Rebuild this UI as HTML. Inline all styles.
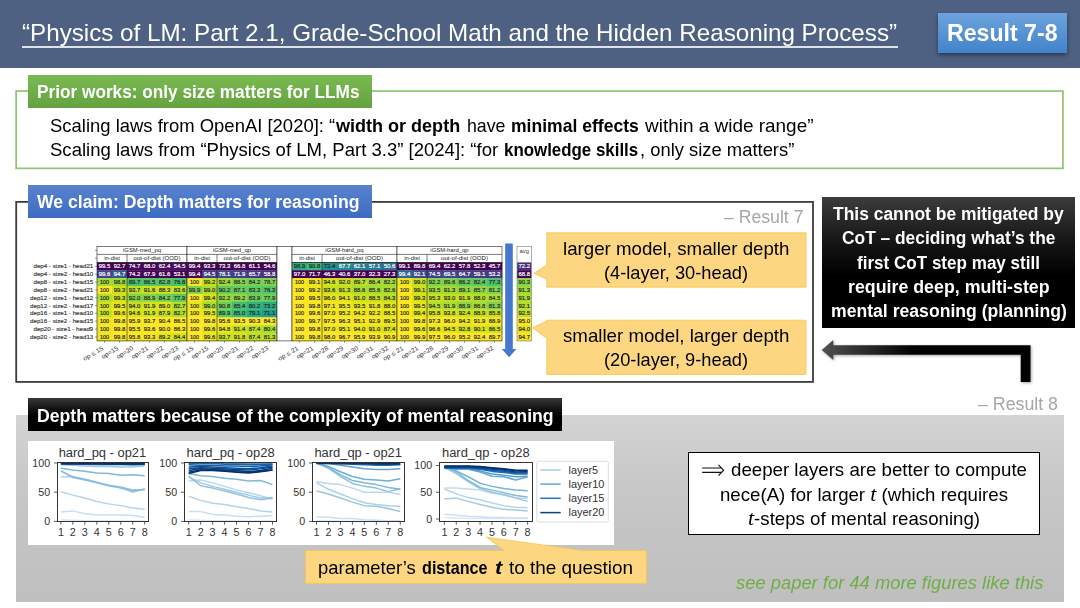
<!DOCTYPE html>
<html><head><meta charset="utf-8"><title>slide</title>
<style>
html,body{margin:0;padding:0}
body{width:1080px;height:608px;position:relative;overflow:hidden;background:#fff;font-family:"Liberation Sans",sans-serif}
.t{position:absolute;white-space:nowrap;display:inline-block;transform-origin:0 0}
.r{position:absolute}
.m{font-family:"Liberation Serif",serif;font-size:1.18em;line-height:0}
</style></head><body>
<div class="r" style="left:0px;top:0px;width:1080.00px;height:67.50px;background:#4f6183"></div>
<span id="title" class="t" style="left:22.00px;top:19px;font-size:24px;line-height:27px;font-weight:400;color:#fff;font-style:normal;transform:scaleX(1.0076);">“Physics of LM: Part 2.1, Grade-School Math and the Hidden Reasoning Process”</span>
<div class="r" style="left:22px;top:46px;width:875.50px;height:2.00px;background:rgba(255,255,255,.82)"></div>
<div class="r" style="left:937.5px;top:12.5px;width:129.20px;height:40.50px;background:linear-gradient(#6da3dc,#4283cb);box-shadow:0 2px 4px rgba(0,0,0,.45)"></div>
<span id="badge" class="t" style="left:947.00px;top:19px;font-size:24px;line-height:27px;font-weight:700;color:#fff;font-style:normal;transform:scaleX(0.9634);">Result 7-8</span>
<svg class="r" style="left:0;top:80px" width="1080" height="100" viewBox="0 80 1080 100"><rect x="16.15" y="91.05" width="1046.8" height="77.3" fill="none" stroke="#8fc470" stroke-width="1.7"/></svg>
<div class="r" style="left:28px;top:74.5px;width:343.50px;height:33.00px;background:linear-gradient(#7aba52,#65a23f)"></div>
<span id="glabel" class="t" style="left:37.00px;top:82px;font-size:17.5px;line-height:20px;font-weight:700;color:#fff;font-style:normal;transform:scaleX(0.9841);">Prior works: only size matters for LLMs</span>
<span id="b1a" class="t" style="left:50.10px;top:116px;font-size:18.2px;line-height:20px;font-weight:400;color:#000;font-style:normal;transform:scaleX(1.0148);">Scaling laws from OpenAI [2020]: “</span>
<span id="b1b" class="t" style="left:336.25px;top:116px;font-size:18.2px;line-height:20px;font-weight:700;color:#000;font-style:normal;transform:scaleX(0.9910);">width or depth</span>
<span id="b1c" class="t" style="left:466.50px;top:116px;font-size:18.2px;line-height:20px;font-weight:400;color:#000;font-style:normal;transform:scaleX(0.9758);">have</span>
<span id="b1d" class="t" style="left:510.70px;top:116px;font-size:18.2px;line-height:20px;font-weight:700;color:#000;font-style:normal;transform:scaleX(0.9651);">minimal effects</span>
<span id="b1e" class="t" style="left:644.50px;top:116px;font-size:18.2px;line-height:20px;font-weight:400;color:#000;font-style:normal;transform:scaleX(1.0416);">within a wide range”</span>
<span id="b2a" class="t" style="left:50.10px;top:140px;font-size:18.2px;line-height:20px;font-weight:400;color:#000;font-style:normal;transform:scaleX(1.0193);">Scaling laws from “Physics of LM, Part 3.3” [2024]: “for</span>
<span id="b2b" class="t" style="left:504.30px;top:140px;font-size:18.2px;line-height:20px;font-weight:700;color:#000;font-style:normal;transform:scaleX(0.9284);">knowledge skills</span>
<span id="b2c" class="t" style="left:640.30px;top:140px;font-size:18.2px;line-height:20px;font-weight:400;color:#000;font-style:normal;transform:scaleX(1.0110);">, only size matters”</span>
<svg class="r" style="left:0;top:190px" width="830" height="200" viewBox="0 190 830 200"><rect x="16.2" y="201.9" width="796.8" height="180" fill="#fff" stroke="#3d3d3d" stroke-width="1.8"/></svg>
<div class="r" style="left:28px;top:185px;width:343.75px;height:33.20px;background:linear-gradient(#5983cf,#3c6bc2)"></div>
<span id="blabel" class="t" style="left:37.00px;top:192px;font-size:17.5px;line-height:20px;font-weight:700;color:#fff;font-style:normal;transform:scaleX(1.0059);">We claim: Depth matters for reasoning</span>
<span id="res7" class="t" style="left:723.75px;top:207px;font-size:17.5px;line-height:20px;font-weight:400;color:#a6a6a6;font-style:normal;transform:scaleX(1.0089);">– Result 7</span>
<svg class="r" style="left:0;top:230px" width="560" height="150" viewBox="0 230 560 150" font-family="Liberation Sans, sans-serif">
<rect x="97.00" y="262.40" width="15.30" height="8.15" fill="#440154"/>
<text x="104.50" y="268.30" font-size="5.6" fill="#fff" stroke="#fff" stroke-width="0.16" text-anchor="middle" textLength="11.6" lengthAdjust="spacingAndGlyphs">99.5</text>
<rect x="97.00" y="270.25" width="15.30" height="8.15" fill="#414487"/>
<text x="104.50" y="276.15" font-size="5.6" fill="#fff" stroke="#fff" stroke-width="0.16" text-anchor="middle" textLength="11.6" lengthAdjust="spacingAndGlyphs">99.6</text>
<rect x="97.00" y="278.10" width="15.30" height="8.15" fill="#a2da37"/>
<text x="104.50" y="284.00" font-size="5.6" fill="#262626" stroke="#262626" stroke-width="0.16" text-anchor="middle" textLength="9.2" lengthAdjust="spacingAndGlyphs">100</text>
<rect x="97.00" y="285.95" width="15.30" height="8.15" fill="#fde725"/>
<text x="104.50" y="291.85" font-size="5.6" fill="#262626" stroke="#262626" stroke-width="0.16" text-anchor="middle" textLength="9.2" lengthAdjust="spacingAndGlyphs">100</text>
<rect x="97.00" y="293.80" width="15.30" height="8.15" fill="#b0dd2f"/>
<text x="104.50" y="299.70" font-size="5.6" fill="#262626" stroke="#262626" stroke-width="0.16" text-anchor="middle" textLength="9.2" lengthAdjust="spacingAndGlyphs">100</text>
<rect x="97.00" y="301.65" width="15.30" height="8.15" fill="#d8e219"/>
<text x="104.50" y="307.55" font-size="5.6" fill="#262626" stroke="#262626" stroke-width="0.16" text-anchor="middle" textLength="9.2" lengthAdjust="spacingAndGlyphs">100</text>
<rect x="97.00" y="309.50" width="15.30" height="8.15" fill="#cae11f"/>
<text x="104.50" y="315.40" font-size="5.6" fill="#262626" stroke="#262626" stroke-width="0.16" text-anchor="middle" textLength="9.2" lengthAdjust="spacingAndGlyphs">100</text>
<rect x="97.00" y="317.35" width="15.30" height="8.15" fill="#f1e51d"/>
<text x="104.50" y="323.25" font-size="5.6" fill="#262626" stroke="#262626" stroke-width="0.16" text-anchor="middle" textLength="9.2" lengthAdjust="spacingAndGlyphs">100</text>
<rect x="97.00" y="325.20" width="15.30" height="8.15" fill="#f1e51d"/>
<text x="104.50" y="331.10" font-size="5.6" fill="#262626" stroke="#262626" stroke-width="0.16" text-anchor="middle" textLength="9.2" lengthAdjust="spacingAndGlyphs">100</text>
<rect x="97.00" y="333.05" width="15.30" height="8.15" fill="#f1e51d"/>
<text x="104.50" y="338.95" font-size="5.6" fill="#262626" stroke="#262626" stroke-width="0.16" text-anchor="middle" textLength="9.2" lengthAdjust="spacingAndGlyphs">100</text>
<rect x="112.00" y="262.40" width="15.30" height="8.15" fill="#440154"/>
<text x="119.50" y="268.30" font-size="5.6" fill="#fff" stroke="#fff" stroke-width="0.16" text-anchor="middle" textLength="11.6" lengthAdjust="spacingAndGlyphs">92.7</text>
<rect x="112.00" y="270.25" width="15.30" height="8.15" fill="#375b8d"/>
<text x="119.50" y="276.15" font-size="5.6" fill="#fff" stroke="#fff" stroke-width="0.16" text-anchor="middle" textLength="11.6" lengthAdjust="spacingAndGlyphs">94.7</text>
<rect x="112.00" y="278.10" width="15.30" height="8.15" fill="#a0da39"/>
<text x="119.50" y="284.00" font-size="5.6" fill="#262626" stroke="#262626" stroke-width="0.16" text-anchor="middle" textLength="11.6" lengthAdjust="spacingAndGlyphs">98.8</text>
<rect x="112.00" y="285.95" width="15.30" height="8.15" fill="#d0e11c"/>
<text x="119.50" y="291.85" font-size="5.6" fill="#262626" stroke="#262626" stroke-width="0.16" text-anchor="middle" textLength="11.6" lengthAdjust="spacingAndGlyphs">99.3</text>
<rect x="112.00" y="293.80" width="15.30" height="8.15" fill="#d0e11c"/>
<text x="119.50" y="299.70" font-size="5.6" fill="#262626" stroke="#262626" stroke-width="0.16" text-anchor="middle" textLength="11.6" lengthAdjust="spacingAndGlyphs">99.3</text>
<rect x="112.00" y="301.65" width="15.30" height="8.15" fill="#e5e419"/>
<text x="119.50" y="307.55" font-size="5.6" fill="#262626" stroke="#262626" stroke-width="0.16" text-anchor="middle" textLength="11.6" lengthAdjust="spacingAndGlyphs">99.5</text>
<rect x="112.00" y="309.50" width="15.30" height="8.15" fill="#ece51b"/>
<text x="119.50" y="315.40" font-size="5.6" fill="#262626" stroke="#262626" stroke-width="0.16" text-anchor="middle" textLength="11.6" lengthAdjust="spacingAndGlyphs">99.6</text>
<rect x="112.00" y="317.35" width="15.30" height="8.15" fill="#fde725"/>
<text x="119.50" y="323.25" font-size="5.6" fill="#262626" stroke="#262626" stroke-width="0.16" text-anchor="middle" textLength="11.6" lengthAdjust="spacingAndGlyphs">99.8</text>
<rect x="112.00" y="325.20" width="15.30" height="8.15" fill="#fde725"/>
<text x="119.50" y="331.10" font-size="5.6" fill="#262626" stroke="#262626" stroke-width="0.16" text-anchor="middle" textLength="11.6" lengthAdjust="spacingAndGlyphs">99.8</text>
<rect x="112.00" y="333.05" width="15.30" height="8.15" fill="#fde725"/>
<text x="119.50" y="338.95" font-size="5.6" fill="#262626" stroke="#262626" stroke-width="0.16" text-anchor="middle" textLength="11.6" lengthAdjust="spacingAndGlyphs">99.8</text>
<rect x="127.00" y="262.40" width="15.30" height="8.15" fill="#46085c"/>
<text x="134.50" y="268.30" font-size="5.6" fill="#fff" stroke="#fff" stroke-width="0.16" text-anchor="middle" textLength="11.6" lengthAdjust="spacingAndGlyphs">74.7</text>
<rect x="127.00" y="270.25" width="15.30" height="8.15" fill="#440154"/>
<text x="134.50" y="276.15" font-size="5.6" fill="#fff" stroke="#fff" stroke-width="0.16" text-anchor="middle" textLength="11.6" lengthAdjust="spacingAndGlyphs">74.2</text>
<rect x="127.00" y="278.10" width="15.30" height="8.15" fill="#4ac16d"/>
<text x="134.50" y="284.00" font-size="5.6" fill="#262626" stroke="#262626" stroke-width="0.16" text-anchor="middle" textLength="11.6" lengthAdjust="spacingAndGlyphs">89.7</text>
<rect x="127.00" y="285.95" width="15.30" height="8.15" fill="#bddf26"/>
<text x="134.50" y="291.85" font-size="5.6" fill="#262626" stroke="#262626" stroke-width="0.16" text-anchor="middle" textLength="11.6" lengthAdjust="spacingAndGlyphs">93.7</text>
<rect x="127.00" y="293.80" width="15.30" height="8.15" fill="#86d549"/>
<text x="134.50" y="299.70" font-size="5.6" fill="#262626" stroke="#262626" stroke-width="0.16" text-anchor="middle" textLength="11.6" lengthAdjust="spacingAndGlyphs">92.0</text>
<rect x="127.00" y="301.65" width="15.30" height="8.15" fill="#c5e021"/>
<text x="134.50" y="307.55" font-size="5.6" fill="#262626" stroke="#262626" stroke-width="0.16" text-anchor="middle" textLength="11.6" lengthAdjust="spacingAndGlyphs">94.0</text>
<rect x="127.00" y="309.50" width="15.30" height="8.15" fill="#d8e219"/>
<text x="134.50" y="315.40" font-size="5.6" fill="#262626" stroke="#262626" stroke-width="0.16" text-anchor="middle" textLength="11.6" lengthAdjust="spacingAndGlyphs">94.6</text>
<rect x="127.00" y="317.35" width="15.30" height="8.15" fill="#fde725"/>
<text x="134.50" y="323.25" font-size="5.6" fill="#262626" stroke="#262626" stroke-width="0.16" text-anchor="middle" textLength="11.6" lengthAdjust="spacingAndGlyphs">95.9</text>
<rect x="127.00" y="325.20" width="15.30" height="8.15" fill="#f4e61e"/>
<text x="134.50" y="331.10" font-size="5.6" fill="#262626" stroke="#262626" stroke-width="0.16" text-anchor="middle" textLength="11.6" lengthAdjust="spacingAndGlyphs">95.5</text>
<rect x="127.00" y="333.05" width="15.30" height="8.15" fill="#fbe723"/>
<text x="134.50" y="338.95" font-size="5.6" fill="#262626" stroke="#262626" stroke-width="0.16" text-anchor="middle" textLength="11.6" lengthAdjust="spacingAndGlyphs">95.8</text>
<rect x="142.00" y="262.40" width="15.30" height="8.15" fill="#440154"/>
<text x="149.50" y="268.30" font-size="5.6" fill="#fff" stroke="#fff" stroke-width="0.16" text-anchor="middle" textLength="11.6" lengthAdjust="spacingAndGlyphs">68.0</text>
<rect x="142.00" y="270.25" width="15.30" height="8.15" fill="#440154"/>
<text x="149.50" y="276.15" font-size="5.6" fill="#fff" stroke="#fff" stroke-width="0.16" text-anchor="middle" textLength="11.6" lengthAdjust="spacingAndGlyphs">67.9</text>
<rect x="142.00" y="278.10" width="15.30" height="8.15" fill="#4ec36b"/>
<text x="149.50" y="284.00" font-size="5.6" fill="#262626" stroke="#262626" stroke-width="0.16" text-anchor="middle" textLength="11.6" lengthAdjust="spacingAndGlyphs">86.5</text>
<rect x="142.00" y="285.95" width="15.30" height="8.15" fill="#cae11f"/>
<text x="149.50" y="291.85" font-size="5.6" fill="#262626" stroke="#262626" stroke-width="0.16" text-anchor="middle" textLength="11.6" lengthAdjust="spacingAndGlyphs">91.6</text>
<rect x="142.00" y="293.80" width="15.30" height="8.15" fill="#84d44b"/>
<text x="149.50" y="299.70" font-size="5.6" fill="#262626" stroke="#262626" stroke-width="0.16" text-anchor="middle" textLength="11.6" lengthAdjust="spacingAndGlyphs">88.9</text>
<rect x="142.00" y="301.65" width="15.30" height="8.15" fill="#d2e21b"/>
<text x="149.50" y="307.55" font-size="5.6" fill="#262626" stroke="#262626" stroke-width="0.16" text-anchor="middle" textLength="11.6" lengthAdjust="spacingAndGlyphs">91.9</text>
<rect x="142.00" y="309.50" width="15.30" height="8.15" fill="#d2e21b"/>
<text x="149.50" y="315.40" font-size="5.6" fill="#262626" stroke="#262626" stroke-width="0.16" text-anchor="middle" textLength="11.6" lengthAdjust="spacingAndGlyphs">91.9</text>
<rect x="142.00" y="317.35" width="15.30" height="8.15" fill="#fde725"/>
<text x="149.50" y="323.25" font-size="5.6" fill="#262626" stroke="#262626" stroke-width="0.16" text-anchor="middle" textLength="11.6" lengthAdjust="spacingAndGlyphs">93.7</text>
<rect x="142.00" y="325.20" width="15.30" height="8.15" fill="#fde725"/>
<text x="149.50" y="331.10" font-size="5.6" fill="#262626" stroke="#262626" stroke-width="0.16" text-anchor="middle" textLength="11.6" lengthAdjust="spacingAndGlyphs">93.6</text>
<rect x="142.00" y="333.05" width="15.30" height="8.15" fill="#f6e620"/>
<text x="149.50" y="338.95" font-size="5.6" fill="#262626" stroke="#262626" stroke-width="0.16" text-anchor="middle" textLength="11.6" lengthAdjust="spacingAndGlyphs">93.3</text>
<rect x="157.00" y="262.40" width="15.30" height="8.15" fill="#460b5e"/>
<text x="164.50" y="268.30" font-size="5.6" fill="#fff" stroke="#fff" stroke-width="0.16" text-anchor="middle" textLength="11.6" lengthAdjust="spacingAndGlyphs">62.4</text>
<rect x="157.00" y="270.25" width="15.30" height="8.15" fill="#440154"/>
<text x="164.50" y="276.15" font-size="5.6" fill="#fff" stroke="#fff" stroke-width="0.16" text-anchor="middle" textLength="11.6" lengthAdjust="spacingAndGlyphs">61.6</text>
<rect x="157.00" y="278.10" width="15.30" height="8.15" fill="#56c667"/>
<text x="164.50" y="284.00" font-size="5.6" fill="#262626" stroke="#262626" stroke-width="0.16" text-anchor="middle" textLength="11.6" lengthAdjust="spacingAndGlyphs">82.8</text>
<rect x="157.00" y="285.95" width="15.30" height="8.15" fill="#d0e11c"/>
<text x="164.50" y="291.85" font-size="5.6" fill="#262626" stroke="#262626" stroke-width="0.16" text-anchor="middle" textLength="11.6" lengthAdjust="spacingAndGlyphs">88.3</text>
<rect x="157.00" y="293.80" width="15.30" height="8.15" fill="#70cf57"/>
<text x="164.50" y="299.70" font-size="5.6" fill="#262626" stroke="#262626" stroke-width="0.16" text-anchor="middle" textLength="11.6" lengthAdjust="spacingAndGlyphs">84.2</text>
<rect x="157.00" y="301.65" width="15.30" height="8.15" fill="#dfe318"/>
<text x="164.50" y="307.55" font-size="5.6" fill="#262626" stroke="#262626" stroke-width="0.16" text-anchor="middle" textLength="11.6" lengthAdjust="spacingAndGlyphs">89.0</text>
<rect x="157.00" y="309.50" width="15.30" height="8.15" fill="#c5e021"/>
<text x="164.50" y="315.40" font-size="5.6" fill="#262626" stroke="#262626" stroke-width="0.16" text-anchor="middle" textLength="11.6" lengthAdjust="spacingAndGlyphs">87.9</text>
<rect x="157.00" y="317.35" width="15.30" height="8.15" fill="#fde725"/>
<text x="164.50" y="323.25" font-size="5.6" fill="#262626" stroke="#262626" stroke-width="0.16" text-anchor="middle" textLength="11.6" lengthAdjust="spacingAndGlyphs">90.4</text>
<rect x="157.00" y="325.20" width="15.30" height="8.15" fill="#f6e620"/>
<text x="164.50" y="331.10" font-size="5.6" fill="#262626" stroke="#262626" stroke-width="0.16" text-anchor="middle" textLength="11.6" lengthAdjust="spacingAndGlyphs">90.0</text>
<rect x="157.00" y="333.05" width="15.30" height="8.15" fill="#e5e419"/>
<text x="164.50" y="338.95" font-size="5.6" fill="#262626" stroke="#262626" stroke-width="0.16" text-anchor="middle" textLength="11.6" lengthAdjust="spacingAndGlyphs">89.2</text>
<rect x="172.00" y="262.40" width="15.30" height="8.15" fill="#471063"/>
<text x="179.50" y="268.30" font-size="5.6" fill="#fff" stroke="#fff" stroke-width="0.16" text-anchor="middle" textLength="11.6" lengthAdjust="spacingAndGlyphs">54.5</text>
<rect x="172.00" y="270.25" width="15.30" height="8.15" fill="#440154"/>
<text x="179.50" y="276.15" font-size="5.6" fill="#fff" stroke="#fff" stroke-width="0.16" text-anchor="middle" textLength="11.6" lengthAdjust="spacingAndGlyphs">53.1</text>
<rect x="172.00" y="278.10" width="15.30" height="8.15" fill="#48c16e"/>
<text x="179.50" y="284.00" font-size="5.6" fill="#262626" stroke="#262626" stroke-width="0.16" text-anchor="middle" textLength="11.6" lengthAdjust="spacingAndGlyphs">76.8</text>
<rect x="172.00" y="285.95" width="15.30" height="8.15" fill="#c5e021"/>
<text x="179.50" y="291.85" font-size="5.6" fill="#262626" stroke="#262626" stroke-width="0.16" text-anchor="middle" textLength="11.6" lengthAdjust="spacingAndGlyphs">83.6</text>
<rect x="172.00" y="293.80" width="15.30" height="8.15" fill="#5ac864"/>
<text x="179.50" y="299.70" font-size="5.6" fill="#262626" stroke="#262626" stroke-width="0.16" text-anchor="middle" textLength="11.6" lengthAdjust="spacingAndGlyphs">77.9</text>
<rect x="172.00" y="301.65" width="15.30" height="8.15" fill="#b2dd2d"/>
<text x="179.50" y="307.55" font-size="5.6" fill="#262626" stroke="#262626" stroke-width="0.16" text-anchor="middle" textLength="11.6" lengthAdjust="spacingAndGlyphs">82.7</text>
<rect x="172.00" y="309.50" width="15.30" height="8.15" fill="#b2dd2d"/>
<text x="179.50" y="315.40" font-size="5.6" fill="#262626" stroke="#262626" stroke-width="0.16" text-anchor="middle" textLength="11.6" lengthAdjust="spacingAndGlyphs">82.7</text>
<rect x="172.00" y="317.35" width="15.30" height="8.15" fill="#fde725"/>
<text x="179.50" y="323.25" font-size="5.6" fill="#262626" stroke="#262626" stroke-width="0.16" text-anchor="middle" textLength="11.6" lengthAdjust="spacingAndGlyphs">86.5</text>
<rect x="172.00" y="325.20" width="15.30" height="8.15" fill="#fbe723"/>
<text x="179.50" y="331.10" font-size="5.6" fill="#262626" stroke="#262626" stroke-width="0.16" text-anchor="middle" textLength="11.6" lengthAdjust="spacingAndGlyphs">86.3</text>
<rect x="172.00" y="333.05" width="15.30" height="8.15" fill="#d5e21a"/>
<text x="179.50" y="338.95" font-size="5.6" fill="#262626" stroke="#262626" stroke-width="0.16" text-anchor="middle" textLength="11.6" lengthAdjust="spacingAndGlyphs">84.4</text>
<rect x="97.0" y="246.6" width="90.0" height="15.8" fill="#fff" stroke="#222" stroke-width="0.6"/>
<line x1="97.0" y1="254.4" x2="187.0" y2="254.4" stroke="#222" stroke-width="0.6"/>
<line x1="127.0" y1="254.4" x2="127.0" y2="340.9" stroke="#222" stroke-width="0.6"/>
<rect x="97.0" y="262.4" width="90.0" height="78.5" fill="none" stroke="#222" stroke-width="0.6"/>
<text x="142.0" y="252.1" font-size="5.9" fill="#222" text-anchor="middle">iGSM-med_pq</text>
<text x="112.0" y="260.3" font-size="5.9" fill="#222" text-anchor="middle">in-dist</text>
<text x="157.0" y="260.3" font-size="5.9" fill="#222" text-anchor="middle" textLength="47" lengthAdjust="spacingAndGlyphs">out-of-dist (OOD)</text>
<line x1="104.5" y1="340.9" x2="104.5" y2="342.8" stroke="#333" stroke-width="0.5"/>
<text x="79.00" y="345.5" font-size="6.3" fill="#333" textLength="22.5" lengthAdjust="spacingAndGlyphs" transform="rotate(-31 101.50 345.5)" dy="4.6">op ≤ 15</text>
<line x1="119.5" y1="340.9" x2="119.5" y2="342.8" stroke="#333" stroke-width="0.5"/>
<text x="97.90" y="345.5" font-size="6.3" fill="#333" textLength="18.6" lengthAdjust="spacingAndGlyphs" transform="rotate(-31 116.50 345.5)" dy="4.6">op=15</text>
<line x1="134.5" y1="340.9" x2="134.5" y2="342.8" stroke="#333" stroke-width="0.5"/>
<text x="112.90" y="345.5" font-size="6.3" fill="#333" textLength="18.6" lengthAdjust="spacingAndGlyphs" transform="rotate(-31 131.50 345.5)" dy="4.6">op=20</text>
<line x1="149.5" y1="340.9" x2="149.5" y2="342.8" stroke="#333" stroke-width="0.5"/>
<text x="127.90" y="345.5" font-size="6.3" fill="#333" textLength="18.6" lengthAdjust="spacingAndGlyphs" transform="rotate(-31 146.50 345.5)" dy="4.6">op=21</text>
<line x1="164.5" y1="340.9" x2="164.5" y2="342.8" stroke="#333" stroke-width="0.5"/>
<text x="142.90" y="345.5" font-size="6.3" fill="#333" textLength="18.6" lengthAdjust="spacingAndGlyphs" transform="rotate(-31 161.50 345.5)" dy="4.6">op=22</text>
<line x1="179.5" y1="340.9" x2="179.5" y2="342.8" stroke="#333" stroke-width="0.5"/>
<text x="157.90" y="345.5" font-size="6.3" fill="#333" textLength="18.6" lengthAdjust="spacingAndGlyphs" transform="rotate(-31 176.50 345.5)" dy="4.6">op=23</text>
<rect x="187.00" y="262.40" width="15.30" height="8.15" fill="#440154"/>
<text x="194.50" y="268.30" font-size="5.6" fill="#fff" stroke="#fff" stroke-width="0.16" text-anchor="middle" textLength="11.6" lengthAdjust="spacingAndGlyphs">99.4</text>
<rect x="187.00" y="270.25" width="15.30" height="8.15" fill="#46075a"/>
<text x="194.50" y="276.15" font-size="5.6" fill="#fff" stroke="#fff" stroke-width="0.16" text-anchor="middle" textLength="11.6" lengthAdjust="spacingAndGlyphs">99.4</text>
<rect x="187.00" y="278.10" width="15.30" height="8.15" fill="#fde725"/>
<text x="194.50" y="284.00" font-size="5.6" fill="#262626" stroke="#262626" stroke-width="0.16" text-anchor="middle" textLength="9.2" lengthAdjust="spacingAndGlyphs">100</text>
<rect x="187.00" y="285.95" width="15.30" height="8.15" fill="#7ad151"/>
<text x="194.50" y="291.85" font-size="5.6" fill="#262626" stroke="#262626" stroke-width="0.16" text-anchor="middle" textLength="11.6" lengthAdjust="spacingAndGlyphs">99.9</text>
<rect x="187.00" y="293.80" width="15.30" height="8.15" fill="#fde725"/>
<text x="194.50" y="299.70" font-size="5.6" fill="#262626" stroke="#262626" stroke-width="0.16" text-anchor="middle" textLength="9.2" lengthAdjust="spacingAndGlyphs">100</text>
<rect x="187.00" y="301.65" width="15.30" height="8.15" fill="#eae51a"/>
<text x="194.50" y="307.55" font-size="5.6" fill="#262626" stroke="#262626" stroke-width="0.16" text-anchor="middle" textLength="9.2" lengthAdjust="spacingAndGlyphs">100</text>
<rect x="187.00" y="309.50" width="15.30" height="8.15" fill="#f4e61e"/>
<text x="194.50" y="315.40" font-size="5.6" fill="#262626" stroke="#262626" stroke-width="0.16" text-anchor="middle" textLength="9.2" lengthAdjust="spacingAndGlyphs">100</text>
<rect x="187.00" y="317.35" width="15.30" height="8.15" fill="#fde725"/>
<text x="194.50" y="323.25" font-size="5.6" fill="#262626" stroke="#262626" stroke-width="0.16" text-anchor="middle" textLength="9.2" lengthAdjust="spacingAndGlyphs">100</text>
<rect x="187.00" y="325.20" width="15.30" height="8.15" fill="#fde725"/>
<text x="194.50" y="331.10" font-size="5.6" fill="#262626" stroke="#262626" stroke-width="0.16" text-anchor="middle" textLength="9.2" lengthAdjust="spacingAndGlyphs">100</text>
<rect x="187.00" y="333.05" width="15.30" height="8.15" fill="#fde725"/>
<text x="194.50" y="338.95" font-size="5.6" fill="#262626" stroke="#262626" stroke-width="0.16" text-anchor="middle" textLength="9.2" lengthAdjust="spacingAndGlyphs">100</text>
<rect x="202.00" y="262.40" width="15.30" height="8.15" fill="#440154"/>
<text x="209.50" y="268.30" font-size="5.6" fill="#fff" stroke="#fff" stroke-width="0.16" text-anchor="middle" textLength="11.6" lengthAdjust="spacingAndGlyphs">93.3</text>
<rect x="202.00" y="270.25" width="15.30" height="8.15" fill="#423f85"/>
<text x="209.50" y="276.15" font-size="5.6" fill="#fff" stroke="#fff" stroke-width="0.16" text-anchor="middle" textLength="11.6" lengthAdjust="spacingAndGlyphs">94.5</text>
<rect x="202.00" y="278.10" width="15.30" height="8.15" fill="#c2df23"/>
<text x="209.50" y="284.00" font-size="5.6" fill="#262626" stroke="#262626" stroke-width="0.16" text-anchor="middle" textLength="11.6" lengthAdjust="spacingAndGlyphs">99.2</text>
<rect x="202.00" y="285.95" width="15.30" height="8.15" fill="#addc30"/>
<text x="209.50" y="291.85" font-size="5.6" fill="#262626" stroke="#262626" stroke-width="0.16" text-anchor="middle" textLength="11.6" lengthAdjust="spacingAndGlyphs">99.0</text>
<rect x="202.00" y="293.80" width="15.30" height="8.15" fill="#d8e219"/>
<text x="209.50" y="299.70" font-size="5.6" fill="#262626" stroke="#262626" stroke-width="0.16" text-anchor="middle" textLength="11.6" lengthAdjust="spacingAndGlyphs">99.4</text>
<rect x="202.00" y="301.65" width="15.30" height="8.15" fill="#addc30"/>
<text x="209.50" y="307.55" font-size="5.6" fill="#262626" stroke="#262626" stroke-width="0.16" text-anchor="middle" textLength="11.6" lengthAdjust="spacingAndGlyphs">99.0</text>
<rect x="202.00" y="309.50" width="15.30" height="8.15" fill="#e2e418"/>
<text x="209.50" y="315.40" font-size="5.6" fill="#262626" stroke="#262626" stroke-width="0.16" text-anchor="middle" textLength="11.6" lengthAdjust="spacingAndGlyphs">99.5</text>
<rect x="202.00" y="317.35" width="15.30" height="8.15" fill="#fde725"/>
<text x="209.50" y="323.25" font-size="5.6" fill="#262626" stroke="#262626" stroke-width="0.16" text-anchor="middle" textLength="11.6" lengthAdjust="spacingAndGlyphs">99.8</text>
<rect x="202.00" y="325.20" width="15.30" height="8.15" fill="#ece51b"/>
<text x="209.50" y="331.10" font-size="5.6" fill="#262626" stroke="#262626" stroke-width="0.16" text-anchor="middle" textLength="11.6" lengthAdjust="spacingAndGlyphs">99.6</text>
<rect x="202.00" y="333.05" width="15.30" height="8.15" fill="#ece51b"/>
<text x="209.50" y="338.95" font-size="5.6" fill="#262626" stroke="#262626" stroke-width="0.16" text-anchor="middle" textLength="11.6" lengthAdjust="spacingAndGlyphs">99.6</text>
<rect x="217.00" y="262.40" width="15.30" height="8.15" fill="#440154"/>
<text x="224.50" y="268.30" font-size="5.6" fill="#fff" stroke="#fff" stroke-width="0.16" text-anchor="middle" textLength="11.6" lengthAdjust="spacingAndGlyphs">73.3</text>
<rect x="217.00" y="270.25" width="15.30" height="8.15" fill="#3f4889"/>
<text x="224.50" y="276.15" font-size="5.6" fill="#fff" stroke="#fff" stroke-width="0.16" text-anchor="middle" textLength="11.6" lengthAdjust="spacingAndGlyphs">78.1</text>
<rect x="217.00" y="278.10" width="15.30" height="8.15" fill="#a0da39"/>
<text x="224.50" y="284.00" font-size="5.6" fill="#262626" stroke="#262626" stroke-width="0.16" text-anchor="middle" textLength="11.6" lengthAdjust="spacingAndGlyphs">92.4</text>
<rect x="217.00" y="285.95" width="15.30" height="8.15" fill="#63cb5f"/>
<text x="224.50" y="291.85" font-size="5.6" fill="#262626" stroke="#262626" stroke-width="0.16" text-anchor="middle" textLength="11.6" lengthAdjust="spacingAndGlyphs">90.2</text>
<rect x="217.00" y="293.80" width="15.30" height="8.15" fill="#98d83e"/>
<text x="224.50" y="299.70" font-size="5.6" fill="#262626" stroke="#262626" stroke-width="0.16" text-anchor="middle" textLength="11.6" lengthAdjust="spacingAndGlyphs">92.2</text>
<rect x="217.00" y="301.65" width="15.30" height="8.15" fill="#70cf57"/>
<text x="224.50" y="307.55" font-size="5.6" fill="#262626" stroke="#262626" stroke-width="0.16" text-anchor="middle" textLength="11.6" lengthAdjust="spacingAndGlyphs">90.8</text>
<rect x="217.00" y="309.50" width="15.30" height="8.15" fill="#5ac864"/>
<text x="224.50" y="315.40" font-size="5.6" fill="#262626" stroke="#262626" stroke-width="0.16" text-anchor="middle" textLength="11.6" lengthAdjust="spacingAndGlyphs">89.9</text>
<rect x="217.00" y="317.35" width="15.30" height="8.15" fill="#fde725"/>
<text x="224.50" y="323.25" font-size="5.6" fill="#262626" stroke="#262626" stroke-width="0.16" text-anchor="middle" textLength="11.6" lengthAdjust="spacingAndGlyphs">95.6</text>
<rect x="217.00" y="325.20" width="15.30" height="8.15" fill="#e7e419"/>
<text x="224.50" y="331.10" font-size="5.6" fill="#262626" stroke="#262626" stroke-width="0.16" text-anchor="middle" textLength="11.6" lengthAdjust="spacingAndGlyphs">94.8</text>
<rect x="217.00" y="333.05" width="15.30" height="8.15" fill="#c8e020"/>
<text x="224.50" y="338.95" font-size="5.6" fill="#262626" stroke="#262626" stroke-width="0.16" text-anchor="middle" textLength="11.6" lengthAdjust="spacingAndGlyphs">93.7</text>
<rect x="232.00" y="262.40" width="15.30" height="8.15" fill="#440154"/>
<text x="239.50" y="268.30" font-size="5.6" fill="#fff" stroke="#fff" stroke-width="0.16" text-anchor="middle" textLength="11.6" lengthAdjust="spacingAndGlyphs">66.8</text>
<rect x="232.00" y="270.25" width="15.30" height="8.15" fill="#424086"/>
<text x="239.50" y="276.15" font-size="5.6" fill="#fff" stroke="#fff" stroke-width="0.16" text-anchor="middle" textLength="11.6" lengthAdjust="spacingAndGlyphs">71.9</text>
<rect x="232.00" y="278.10" width="15.30" height="8.15" fill="#84d44b"/>
<text x="239.50" y="284.00" font-size="5.6" fill="#262626" stroke="#262626" stroke-width="0.16" text-anchor="middle" textLength="11.6" lengthAdjust="spacingAndGlyphs">88.5</text>
<rect x="232.00" y="285.95" width="15.30" height="8.15" fill="#63cb5f"/>
<text x="239.50" y="291.85" font-size="5.6" fill="#262626" stroke="#262626" stroke-width="0.16" text-anchor="middle" textLength="11.6" lengthAdjust="spacingAndGlyphs">87.1</text>
<rect x="232.00" y="293.80" width="15.30" height="8.15" fill="#93d741"/>
<text x="239.50" y="299.70" font-size="5.6" fill="#262626" stroke="#262626" stroke-width="0.16" text-anchor="middle" textLength="11.6" lengthAdjust="spacingAndGlyphs">89.2</text>
<rect x="232.00" y="301.65" width="15.30" height="8.15" fill="#42be71"/>
<text x="239.50" y="307.55" font-size="5.6" fill="#262626" stroke="#262626" stroke-width="0.16" text-anchor="middle" textLength="11.6" lengthAdjust="spacingAndGlyphs">85.4</text>
<rect x="232.00" y="309.50" width="15.30" height="8.15" fill="#3bbb75"/>
<text x="239.50" y="315.40" font-size="5.6" fill="#262626" stroke="#262626" stroke-width="0.16" text-anchor="middle" textLength="11.6" lengthAdjust="spacingAndGlyphs">85.0</text>
<rect x="232.00" y="317.35" width="15.30" height="8.15" fill="#fde725"/>
<text x="239.50" y="323.25" font-size="5.6" fill="#262626" stroke="#262626" stroke-width="0.16" text-anchor="middle" textLength="11.6" lengthAdjust="spacingAndGlyphs">93.5</text>
<rect x="232.00" y="325.20" width="15.30" height="8.15" fill="#cae11f"/>
<text x="239.50" y="331.10" font-size="5.6" fill="#262626" stroke="#262626" stroke-width="0.16" text-anchor="middle" textLength="11.6" lengthAdjust="spacingAndGlyphs">91.4</text>
<rect x="232.00" y="333.05" width="15.30" height="8.15" fill="#d5e21a"/>
<text x="239.50" y="338.95" font-size="5.6" fill="#262626" stroke="#262626" stroke-width="0.16" text-anchor="middle" textLength="11.6" lengthAdjust="spacingAndGlyphs">91.8</text>
<rect x="247.00" y="262.40" width="15.30" height="8.15" fill="#440154"/>
<text x="254.50" y="268.30" font-size="5.6" fill="#fff" stroke="#fff" stroke-width="0.16" text-anchor="middle" textLength="11.6" lengthAdjust="spacingAndGlyphs">61.1</text>
<rect x="247.00" y="270.25" width="15.30" height="8.15" fill="#453781"/>
<text x="254.50" y="276.15" font-size="5.6" fill="#fff" stroke="#fff" stroke-width="0.16" text-anchor="middle" textLength="11.6" lengthAdjust="spacingAndGlyphs">65.7</text>
<rect x="247.00" y="278.10" width="15.30" height="8.15" fill="#75d054"/>
<text x="254.50" y="284.00" font-size="5.6" fill="#262626" stroke="#262626" stroke-width="0.16" text-anchor="middle" textLength="11.6" lengthAdjust="spacingAndGlyphs">84.2</text>
<rect x="247.00" y="285.95" width="15.30" height="8.15" fill="#63cb5f"/>
<text x="254.50" y="291.85" font-size="5.6" fill="#262626" stroke="#262626" stroke-width="0.16" text-anchor="middle" textLength="11.6" lengthAdjust="spacingAndGlyphs">83.3</text>
<rect x="247.00" y="293.80" width="15.30" height="8.15" fill="#6ece58"/>
<text x="254.50" y="299.70" font-size="5.6" fill="#262626" stroke="#262626" stroke-width="0.16" text-anchor="middle" textLength="11.6" lengthAdjust="spacingAndGlyphs">83.9</text>
<rect x="247.00" y="301.65" width="15.30" height="8.15" fill="#31b57b"/>
<text x="254.50" y="307.55" font-size="5.6" fill="#262626" stroke="#262626" stroke-width="0.16" text-anchor="middle" textLength="11.6" lengthAdjust="spacingAndGlyphs">80.2</text>
<rect x="247.00" y="309.50" width="15.30" height="8.15" fill="#25ac82"/>
<text x="254.50" y="315.40" font-size="5.6" fill="#262626" stroke="#262626" stroke-width="0.16" text-anchor="middle" textLength="11.6" lengthAdjust="spacingAndGlyphs">79.1</text>
<rect x="247.00" y="317.35" width="15.30" height="8.15" fill="#fde725"/>
<text x="254.50" y="323.25" font-size="5.6" fill="#262626" stroke="#262626" stroke-width="0.16" text-anchor="middle" textLength="11.6" lengthAdjust="spacingAndGlyphs">90.3</text>
<rect x="247.00" y="325.20" width="15.30" height="8.15" fill="#bddf26"/>
<text x="254.50" y="331.10" font-size="5.6" fill="#262626" stroke="#262626" stroke-width="0.16" text-anchor="middle" textLength="11.6" lengthAdjust="spacingAndGlyphs">87.4</text>
<rect x="247.00" y="333.05" width="15.30" height="8.15" fill="#bddf26"/>
<text x="254.50" y="338.95" font-size="5.6" fill="#262626" stroke="#262626" stroke-width="0.16" text-anchor="middle" textLength="11.6" lengthAdjust="spacingAndGlyphs">87.4</text>
<rect x="262.00" y="262.40" width="15.30" height="8.15" fill="#440154"/>
<text x="269.50" y="268.30" font-size="5.6" fill="#fff" stroke="#fff" stroke-width="0.16" text-anchor="middle" textLength="11.6" lengthAdjust="spacingAndGlyphs">54.6</text>
<rect x="262.00" y="270.25" width="15.30" height="8.15" fill="#46327e"/>
<text x="269.50" y="276.15" font-size="5.6" fill="#fff" stroke="#fff" stroke-width="0.16" text-anchor="middle" textLength="11.6" lengthAdjust="spacingAndGlyphs">58.8</text>
<rect x="262.00" y="278.10" width="15.30" height="8.15" fill="#81d34d"/>
<text x="269.50" y="284.00" font-size="5.6" fill="#262626" stroke="#262626" stroke-width="0.16" text-anchor="middle" textLength="11.6" lengthAdjust="spacingAndGlyphs">78.7</text>
<rect x="262.00" y="285.95" width="15.30" height="8.15" fill="#54c568"/>
<text x="269.50" y="291.85" font-size="5.6" fill="#262626" stroke="#262626" stroke-width="0.16" text-anchor="middle" textLength="11.6" lengthAdjust="spacingAndGlyphs">76.3</text>
<rect x="262.00" y="293.80" width="15.30" height="8.15" fill="#70cf57"/>
<text x="269.50" y="299.70" font-size="5.6" fill="#262626" stroke="#262626" stroke-width="0.16" text-anchor="middle" textLength="11.6" lengthAdjust="spacingAndGlyphs">77.9</text>
<rect x="262.00" y="301.65" width="15.30" height="8.15" fill="#28ae80"/>
<text x="269.50" y="307.55" font-size="5.6" fill="#262626" stroke="#262626" stroke-width="0.16" text-anchor="middle" textLength="11.6" lengthAdjust="spacingAndGlyphs">73.2</text>
<rect x="262.00" y="309.50" width="15.30" height="8.15" fill="#1f9e89"/>
<text x="269.50" y="315.40" font-size="5.6" fill="#262626" stroke="#262626" stroke-width="0.16" text-anchor="middle" textLength="11.6" lengthAdjust="spacingAndGlyphs">71.1</text>
<rect x="262.00" y="317.35" width="15.30" height="8.15" fill="#fde725"/>
<text x="269.50" y="323.25" font-size="5.6" fill="#262626" stroke="#262626" stroke-width="0.16" text-anchor="middle" textLength="11.6" lengthAdjust="spacingAndGlyphs">84.3</text>
<rect x="262.00" y="325.20" width="15.30" height="8.15" fill="#a8db34"/>
<text x="269.50" y="331.10" font-size="5.6" fill="#262626" stroke="#262626" stroke-width="0.16" text-anchor="middle" textLength="11.6" lengthAdjust="spacingAndGlyphs">80.4</text>
<rect x="262.00" y="333.05" width="15.30" height="8.15" fill="#bddf26"/>
<text x="269.50" y="338.95" font-size="5.6" fill="#262626" stroke="#262626" stroke-width="0.16" text-anchor="middle" textLength="11.6" lengthAdjust="spacingAndGlyphs">81.3</text>
<rect x="187.0" y="246.6" width="90.0" height="15.8" fill="#fff" stroke="#222" stroke-width="0.6"/>
<line x1="187.0" y1="254.4" x2="277.0" y2="254.4" stroke="#222" stroke-width="0.6"/>
<line x1="217.0" y1="254.4" x2="217.0" y2="340.9" stroke="#222" stroke-width="0.6"/>
<rect x="187.0" y="262.4" width="90.0" height="78.5" fill="none" stroke="#222" stroke-width="0.6"/>
<text x="232.0" y="252.1" font-size="5.9" fill="#222" text-anchor="middle">iGSM-med_qp</text>
<text x="202.0" y="260.3" font-size="5.9" fill="#222" text-anchor="middle">in-dist</text>
<text x="247.0" y="260.3" font-size="5.9" fill="#222" text-anchor="middle" textLength="47" lengthAdjust="spacingAndGlyphs">out-of-dist (OOD)</text>
<line x1="194.5" y1="340.9" x2="194.5" y2="342.8" stroke="#333" stroke-width="0.5"/>
<text x="169.00" y="345.5" font-size="6.3" fill="#333" textLength="22.5" lengthAdjust="spacingAndGlyphs" transform="rotate(-31 191.50 345.5)" dy="4.6">op ≤ 15</text>
<line x1="209.5" y1="340.9" x2="209.5" y2="342.8" stroke="#333" stroke-width="0.5"/>
<text x="187.90" y="345.5" font-size="6.3" fill="#333" textLength="18.6" lengthAdjust="spacingAndGlyphs" transform="rotate(-31 206.50 345.5)" dy="4.6">op=15</text>
<line x1="224.5" y1="340.9" x2="224.5" y2="342.8" stroke="#333" stroke-width="0.5"/>
<text x="202.90" y="345.5" font-size="6.3" fill="#333" textLength="18.6" lengthAdjust="spacingAndGlyphs" transform="rotate(-31 221.50 345.5)" dy="4.6">op=20</text>
<line x1="239.5" y1="340.9" x2="239.5" y2="342.8" stroke="#333" stroke-width="0.5"/>
<text x="217.90" y="345.5" font-size="6.3" fill="#333" textLength="18.6" lengthAdjust="spacingAndGlyphs" transform="rotate(-31 236.50 345.5)" dy="4.6">op=21</text>
<line x1="254.5" y1="340.9" x2="254.5" y2="342.8" stroke="#333" stroke-width="0.5"/>
<text x="232.90" y="345.5" font-size="6.3" fill="#333" textLength="18.6" lengthAdjust="spacingAndGlyphs" transform="rotate(-31 251.50 345.5)" dy="4.6">op=22</text>
<line x1="269.5" y1="340.9" x2="269.5" y2="342.8" stroke="#333" stroke-width="0.5"/>
<text x="247.90" y="345.5" font-size="6.3" fill="#333" textLength="18.6" lengthAdjust="spacingAndGlyphs" transform="rotate(-31 266.50 345.5)" dy="4.6">op=23</text>
<rect x="277.0" y="246.6" width="15" height="94.3" fill="#fff" stroke="#222" stroke-width="0.6"/>
<rect x="292.00" y="262.40" width="15.30" height="8.15" fill="#2ab07f"/>
<text x="299.50" y="268.30" font-size="5.6" fill="#262626" stroke="#262626" stroke-width="0.16" text-anchor="middle" textLength="11.6" lengthAdjust="spacingAndGlyphs">98.9</text>
<rect x="292.00" y="270.25" width="15.30" height="8.15" fill="#440154"/>
<text x="299.50" y="276.15" font-size="5.6" fill="#fff" stroke="#fff" stroke-width="0.16" text-anchor="middle" textLength="11.6" lengthAdjust="spacingAndGlyphs">97.0</text>
<rect x="292.00" y="278.10" width="15.30" height="8.15" fill="#f8e621"/>
<text x="299.50" y="284.00" font-size="5.6" fill="#262626" stroke="#262626" stroke-width="0.16" text-anchor="middle" textLength="9.2" lengthAdjust="spacingAndGlyphs">100</text>
<rect x="292.00" y="285.95" width="15.30" height="8.15" fill="#fbe723"/>
<text x="299.50" y="291.85" font-size="5.6" fill="#262626" stroke="#262626" stroke-width="0.16" text-anchor="middle" textLength="9.2" lengthAdjust="spacingAndGlyphs">100</text>
<rect x="292.00" y="293.80" width="15.30" height="8.15" fill="#fde725"/>
<text x="299.50" y="299.70" font-size="5.6" fill="#262626" stroke="#262626" stroke-width="0.16" text-anchor="middle" textLength="9.2" lengthAdjust="spacingAndGlyphs">100</text>
<rect x="292.00" y="301.65" width="15.30" height="8.15" fill="#fde725"/>
<text x="299.50" y="307.55" font-size="5.6" fill="#262626" stroke="#262626" stroke-width="0.16" text-anchor="middle" textLength="9.2" lengthAdjust="spacingAndGlyphs">100</text>
<rect x="292.00" y="309.50" width="15.30" height="8.15" fill="#fde725"/>
<text x="299.50" y="315.40" font-size="5.6" fill="#262626" stroke="#262626" stroke-width="0.16" text-anchor="middle" textLength="9.2" lengthAdjust="spacingAndGlyphs">100</text>
<rect x="292.00" y="317.35" width="15.30" height="8.15" fill="#fde725"/>
<text x="299.50" y="323.25" font-size="5.6" fill="#262626" stroke="#262626" stroke-width="0.16" text-anchor="middle" textLength="9.2" lengthAdjust="spacingAndGlyphs">100</text>
<rect x="292.00" y="325.20" width="15.30" height="8.15" fill="#fde725"/>
<text x="299.50" y="331.10" font-size="5.6" fill="#262626" stroke="#262626" stroke-width="0.16" text-anchor="middle" textLength="9.2" lengthAdjust="spacingAndGlyphs">100</text>
<rect x="292.00" y="333.05" width="15.30" height="8.15" fill="#fde725"/>
<text x="299.50" y="338.95" font-size="5.6" fill="#262626" stroke="#262626" stroke-width="0.16" text-anchor="middle" textLength="9.2" lengthAdjust="spacingAndGlyphs">100</text>
<rect x="307.00" y="262.40" width="15.30" height="8.15" fill="#3bbb75"/>
<text x="314.50" y="268.30" font-size="5.6" fill="#262626" stroke="#262626" stroke-width="0.16" text-anchor="middle" textLength="11.6" lengthAdjust="spacingAndGlyphs">90.8</text>
<rect x="307.00" y="270.25" width="15.30" height="8.15" fill="#440154"/>
<text x="314.50" y="276.15" font-size="5.6" fill="#fff" stroke="#fff" stroke-width="0.16" text-anchor="middle" textLength="11.6" lengthAdjust="spacingAndGlyphs">71.7</text>
<rect x="307.00" y="278.10" width="15.30" height="8.15" fill="#efe51c"/>
<text x="314.50" y="284.00" font-size="5.6" fill="#262626" stroke="#262626" stroke-width="0.16" text-anchor="middle" textLength="11.6" lengthAdjust="spacingAndGlyphs">99.1</text>
<rect x="307.00" y="285.95" width="15.30" height="8.15" fill="#f1e51d"/>
<text x="314.50" y="291.85" font-size="5.6" fill="#262626" stroke="#262626" stroke-width="0.16" text-anchor="middle" textLength="11.6" lengthAdjust="spacingAndGlyphs">99.2</text>
<rect x="307.00" y="293.80" width="15.30" height="8.15" fill="#f8e621"/>
<text x="314.50" y="299.70" font-size="5.6" fill="#262626" stroke="#262626" stroke-width="0.16" text-anchor="middle" textLength="11.6" lengthAdjust="spacingAndGlyphs">99.5</text>
<rect x="307.00" y="301.65" width="15.30" height="8.15" fill="#fde725"/>
<text x="314.50" y="307.55" font-size="5.6" fill="#262626" stroke="#262626" stroke-width="0.16" text-anchor="middle" textLength="11.6" lengthAdjust="spacingAndGlyphs">99.8</text>
<rect x="307.00" y="309.50" width="15.30" height="8.15" fill="#fbe723"/>
<text x="314.50" y="315.40" font-size="5.6" fill="#262626" stroke="#262626" stroke-width="0.16" text-anchor="middle" textLength="11.6" lengthAdjust="spacingAndGlyphs">99.6</text>
<rect x="307.00" y="317.35" width="15.30" height="8.15" fill="#fde725"/>
<text x="314.50" y="323.25" font-size="5.6" fill="#262626" stroke="#262626" stroke-width="0.16" text-anchor="middle" textLength="11.6" lengthAdjust="spacingAndGlyphs">99.7</text>
<rect x="307.00" y="325.20" width="15.30" height="8.15" fill="#fde725"/>
<text x="314.50" y="331.10" font-size="5.6" fill="#262626" stroke="#262626" stroke-width="0.16" text-anchor="middle" textLength="11.6" lengthAdjust="spacingAndGlyphs">99.8</text>
<rect x="307.00" y="333.05" width="15.30" height="8.15" fill="#fde725"/>
<text x="314.50" y="338.95" font-size="5.6" fill="#262626" stroke="#262626" stroke-width="0.16" text-anchor="middle" textLength="11.6" lengthAdjust="spacingAndGlyphs">99.8</text>
<rect x="322.00" y="262.40" width="15.30" height="8.15" fill="#20928c"/>
<text x="329.50" y="268.30" font-size="5.6" fill="#262626" stroke="#262626" stroke-width="0.16" text-anchor="middle" textLength="11.6" lengthAdjust="spacingAndGlyphs">72.4</text>
<rect x="322.00" y="270.25" width="15.30" height="8.15" fill="#440154"/>
<text x="329.50" y="276.15" font-size="5.6" fill="#fff" stroke="#fff" stroke-width="0.16" text-anchor="middle" textLength="11.6" lengthAdjust="spacingAndGlyphs">46.3</text>
<rect x="322.00" y="278.10" width="15.30" height="8.15" fill="#d5e21a"/>
<text x="329.50" y="284.00" font-size="5.6" fill="#262626" stroke="#262626" stroke-width="0.16" text-anchor="middle" textLength="11.6" lengthAdjust="spacingAndGlyphs">94.6</text>
<rect x="322.00" y="285.95" width="15.30" height="8.15" fill="#c8e020"/>
<text x="329.50" y="291.85" font-size="5.6" fill="#262626" stroke="#262626" stroke-width="0.16" text-anchor="middle" textLength="11.6" lengthAdjust="spacingAndGlyphs">93.6</text>
<rect x="322.00" y="293.80" width="15.30" height="8.15" fill="#e7e419"/>
<text x="329.50" y="299.70" font-size="5.6" fill="#262626" stroke="#262626" stroke-width="0.16" text-anchor="middle" textLength="11.6" lengthAdjust="spacingAndGlyphs">96.0</text>
<rect x="322.00" y="301.65" width="15.30" height="8.15" fill="#f4e61e"/>
<text x="329.50" y="307.55" font-size="5.6" fill="#262626" stroke="#262626" stroke-width="0.16" text-anchor="middle" textLength="11.6" lengthAdjust="spacingAndGlyphs">97.1</text>
<rect x="322.00" y="309.50" width="15.30" height="8.15" fill="#f4e61e"/>
<text x="329.50" y="315.40" font-size="5.6" fill="#262626" stroke="#262626" stroke-width="0.16" text-anchor="middle" textLength="11.6" lengthAdjust="spacingAndGlyphs">97.0</text>
<rect x="322.00" y="317.35" width="15.30" height="8.15" fill="#f8e621"/>
<text x="329.50" y="323.25" font-size="5.6" fill="#262626" stroke="#262626" stroke-width="0.16" text-anchor="middle" textLength="11.6" lengthAdjust="spacingAndGlyphs">97.5</text>
<rect x="322.00" y="325.20" width="15.30" height="8.15" fill="#f4e61e"/>
<text x="329.50" y="331.10" font-size="5.6" fill="#262626" stroke="#262626" stroke-width="0.16" text-anchor="middle" textLength="11.6" lengthAdjust="spacingAndGlyphs">97.0</text>
<rect x="322.00" y="333.05" width="15.30" height="8.15" fill="#fde725"/>
<text x="329.50" y="338.95" font-size="5.6" fill="#262626" stroke="#262626" stroke-width="0.16" text-anchor="middle" textLength="11.6" lengthAdjust="spacingAndGlyphs">98.0</text>
<rect x="337.00" y="262.40" width="15.30" height="8.15" fill="#228c8d"/>
<text x="344.50" y="268.30" font-size="5.6" fill="#fff" stroke="#fff" stroke-width="0.16" text-anchor="middle" textLength="11.6" lengthAdjust="spacingAndGlyphs">67.7</text>
<rect x="337.00" y="270.25" width="15.30" height="8.15" fill="#440154"/>
<text x="344.50" y="276.15" font-size="5.6" fill="#fff" stroke="#fff" stroke-width="0.16" text-anchor="middle" textLength="11.6" lengthAdjust="spacingAndGlyphs">40.6</text>
<rect x="337.00" y="278.10" width="15.30" height="8.15" fill="#c8e020"/>
<text x="344.50" y="284.00" font-size="5.6" fill="#262626" stroke="#262626" stroke-width="0.16" text-anchor="middle" textLength="11.6" lengthAdjust="spacingAndGlyphs">92.0</text>
<rect x="337.00" y="285.95" width="15.30" height="8.15" fill="#c0df25"/>
<text x="344.50" y="291.85" font-size="5.6" fill="#262626" stroke="#262626" stroke-width="0.16" text-anchor="middle" textLength="11.6" lengthAdjust="spacingAndGlyphs">91.3</text>
<rect x="337.00" y="293.80" width="15.30" height="8.15" fill="#e2e418"/>
<text x="344.50" y="299.70" font-size="5.6" fill="#262626" stroke="#262626" stroke-width="0.16" text-anchor="middle" textLength="11.6" lengthAdjust="spacingAndGlyphs">94.1</text>
<rect x="337.00" y="301.65" width="15.30" height="8.15" fill="#f1e51d"/>
<text x="344.50" y="307.55" font-size="5.6" fill="#262626" stroke="#262626" stroke-width="0.16" text-anchor="middle" textLength="11.6" lengthAdjust="spacingAndGlyphs">95.5</text>
<rect x="337.00" y="309.50" width="15.30" height="8.15" fill="#efe51c"/>
<text x="344.50" y="315.40" font-size="5.6" fill="#262626" stroke="#262626" stroke-width="0.16" text-anchor="middle" textLength="11.6" lengthAdjust="spacingAndGlyphs">95.2</text>
<rect x="337.00" y="317.35" width="15.30" height="8.15" fill="#fbe723"/>
<text x="344.50" y="323.25" font-size="5.6" fill="#262626" stroke="#262626" stroke-width="0.16" text-anchor="middle" textLength="11.6" lengthAdjust="spacingAndGlyphs">96.3</text>
<rect x="337.00" y="325.20" width="15.30" height="8.15" fill="#ece51b"/>
<text x="344.50" y="331.10" font-size="5.6" fill="#262626" stroke="#262626" stroke-width="0.16" text-anchor="middle" textLength="11.6" lengthAdjust="spacingAndGlyphs">95.1</text>
<rect x="337.00" y="333.05" width="15.30" height="8.15" fill="#fde725"/>
<text x="344.50" y="338.95" font-size="5.6" fill="#262626" stroke="#262626" stroke-width="0.16" text-anchor="middle" textLength="11.6" lengthAdjust="spacingAndGlyphs">96.7</text>
<rect x="352.00" y="262.40" width="15.30" height="8.15" fill="#277f8e"/>
<text x="359.50" y="268.30" font-size="5.6" fill="#fff" stroke="#fff" stroke-width="0.16" text-anchor="middle" textLength="11.6" lengthAdjust="spacingAndGlyphs">62.1</text>
<rect x="352.00" y="270.25" width="15.30" height="8.15" fill="#440154"/>
<text x="359.50" y="276.15" font-size="5.6" fill="#fff" stroke="#fff" stroke-width="0.16" text-anchor="middle" textLength="11.6" lengthAdjust="spacingAndGlyphs">37.0</text>
<rect x="352.00" y="278.10" width="15.30" height="8.15" fill="#bade28"/>
<text x="359.50" y="284.00" font-size="5.6" fill="#262626" stroke="#262626" stroke-width="0.16" text-anchor="middle" textLength="11.6" lengthAdjust="spacingAndGlyphs">89.7</text>
<rect x="352.00" y="285.95" width="15.30" height="8.15" fill="#addc30"/>
<text x="359.50" y="291.85" font-size="5.6" fill="#262626" stroke="#262626" stroke-width="0.16" text-anchor="middle" textLength="11.6" lengthAdjust="spacingAndGlyphs">88.6</text>
<rect x="352.00" y="293.80" width="15.30" height="8.15" fill="#c8e020"/>
<text x="359.50" y="299.70" font-size="5.6" fill="#262626" stroke="#262626" stroke-width="0.16" text-anchor="middle" textLength="11.6" lengthAdjust="spacingAndGlyphs">91.0</text>
<rect x="352.00" y="301.65" width="15.30" height="8.15" fill="#e5e419"/>
<text x="359.50" y="307.55" font-size="5.6" fill="#262626" stroke="#262626" stroke-width="0.16" text-anchor="middle" textLength="11.6" lengthAdjust="spacingAndGlyphs">93.5</text>
<rect x="352.00" y="309.50" width="15.30" height="8.15" fill="#ece51b"/>
<text x="359.50" y="315.40" font-size="5.6" fill="#262626" stroke="#262626" stroke-width="0.16" text-anchor="middle" textLength="11.6" lengthAdjust="spacingAndGlyphs">94.2</text>
<rect x="352.00" y="317.35" width="15.30" height="8.15" fill="#f6e620"/>
<text x="359.50" y="323.25" font-size="5.6" fill="#262626" stroke="#262626" stroke-width="0.16" text-anchor="middle" textLength="11.6" lengthAdjust="spacingAndGlyphs">95.1</text>
<rect x="352.00" y="325.20" width="15.30" height="8.15" fill="#eae51a"/>
<text x="359.50" y="331.10" font-size="5.6" fill="#262626" stroke="#262626" stroke-width="0.16" text-anchor="middle" textLength="11.6" lengthAdjust="spacingAndGlyphs">94.0</text>
<rect x="352.00" y="333.05" width="15.30" height="8.15" fill="#fde725"/>
<text x="359.50" y="338.95" font-size="5.6" fill="#262626" stroke="#262626" stroke-width="0.16" text-anchor="middle" textLength="11.6" lengthAdjust="spacingAndGlyphs">95.9</text>
<rect x="367.00" y="262.40" width="15.30" height="8.15" fill="#29798e"/>
<text x="374.50" y="268.30" font-size="5.6" fill="#fff" stroke="#fff" stroke-width="0.16" text-anchor="middle" textLength="11.6" lengthAdjust="spacingAndGlyphs">57.1</text>
<rect x="367.00" y="270.25" width="15.30" height="8.15" fill="#440154"/>
<text x="374.50" y="276.15" font-size="5.6" fill="#fff" stroke="#fff" stroke-width="0.16" text-anchor="middle" textLength="11.6" lengthAdjust="spacingAndGlyphs">32.3</text>
<rect x="367.00" y="278.10" width="15.30" height="8.15" fill="#addc30"/>
<text x="374.50" y="284.00" font-size="5.6" fill="#262626" stroke="#262626" stroke-width="0.16" text-anchor="middle" textLength="11.6" lengthAdjust="spacingAndGlyphs">86.4</text>
<rect x="367.00" y="285.95" width="15.30" height="8.15" fill="#a5db36"/>
<text x="374.50" y="291.85" font-size="5.6" fill="#262626" stroke="#262626" stroke-width="0.16" text-anchor="middle" textLength="11.6" lengthAdjust="spacingAndGlyphs">85.6</text>
<rect x="367.00" y="293.80" width="15.30" height="8.15" fill="#c5e021"/>
<text x="374.50" y="299.70" font-size="5.6" fill="#262626" stroke="#262626" stroke-width="0.16" text-anchor="middle" textLength="11.6" lengthAdjust="spacingAndGlyphs">88.5</text>
<rect x="367.00" y="301.65" width="15.30" height="8.15" fill="#eae51a"/>
<text x="374.50" y="307.55" font-size="5.6" fill="#262626" stroke="#262626" stroke-width="0.16" text-anchor="middle" textLength="11.6" lengthAdjust="spacingAndGlyphs">91.8</text>
<rect x="367.00" y="309.50" width="15.30" height="8.15" fill="#ece51b"/>
<text x="374.50" y="315.40" font-size="5.6" fill="#262626" stroke="#262626" stroke-width="0.16" text-anchor="middle" textLength="11.6" lengthAdjust="spacingAndGlyphs">92.2</text>
<rect x="367.00" y="317.35" width="15.30" height="8.15" fill="#f4e61e"/>
<text x="374.50" y="323.25" font-size="5.6" fill="#262626" stroke="#262626" stroke-width="0.16" text-anchor="middle" textLength="11.6" lengthAdjust="spacingAndGlyphs">92.9</text>
<rect x="367.00" y="325.20" width="15.30" height="8.15" fill="#dfe318"/>
<text x="374.50" y="331.10" font-size="5.6" fill="#262626" stroke="#262626" stroke-width="0.16" text-anchor="middle" textLength="11.6" lengthAdjust="spacingAndGlyphs">91.0</text>
<rect x="367.00" y="333.05" width="15.30" height="8.15" fill="#fde725"/>
<text x="374.50" y="338.95" font-size="5.6" fill="#262626" stroke="#262626" stroke-width="0.16" text-anchor="middle" textLength="11.6" lengthAdjust="spacingAndGlyphs">93.9</text>
<rect x="382.00" y="262.40" width="15.30" height="8.15" fill="#2d708e"/>
<text x="389.50" y="268.30" font-size="5.6" fill="#fff" stroke="#fff" stroke-width="0.16" text-anchor="middle" textLength="11.6" lengthAdjust="spacingAndGlyphs">50.6</text>
<rect x="382.00" y="270.25" width="15.30" height="8.15" fill="#440154"/>
<text x="389.50" y="276.15" font-size="5.6" fill="#fff" stroke="#fff" stroke-width="0.16" text-anchor="middle" textLength="11.6" lengthAdjust="spacingAndGlyphs">27.3</text>
<rect x="382.00" y="278.10" width="15.30" height="8.15" fill="#a2da37"/>
<text x="389.50" y="284.00" font-size="5.6" fill="#262626" stroke="#262626" stroke-width="0.16" text-anchor="middle" textLength="11.6" lengthAdjust="spacingAndGlyphs">82.2</text>
<rect x="382.00" y="285.95" width="15.30" height="8.15" fill="#a8db34"/>
<text x="389.50" y="291.85" font-size="5.6" fill="#262626" stroke="#262626" stroke-width="0.16" text-anchor="middle" textLength="11.6" lengthAdjust="spacingAndGlyphs">82.6</text>
<rect x="382.00" y="293.80" width="15.30" height="8.15" fill="#bade28"/>
<text x="389.50" y="299.70" font-size="5.6" fill="#262626" stroke="#262626" stroke-width="0.16" text-anchor="middle" textLength="11.6" lengthAdjust="spacingAndGlyphs">84.3</text>
<rect x="382.00" y="301.65" width="15.30" height="8.15" fill="#e2e418"/>
<text x="389.50" y="307.55" font-size="5.6" fill="#262626" stroke="#262626" stroke-width="0.16" text-anchor="middle" textLength="11.6" lengthAdjust="spacingAndGlyphs">88.0</text>
<rect x="382.00" y="309.50" width="15.30" height="8.15" fill="#e7e419"/>
<text x="389.50" y="315.40" font-size="5.6" fill="#262626" stroke="#262626" stroke-width="0.16" text-anchor="middle" textLength="11.6" lengthAdjust="spacingAndGlyphs">88.5</text>
<rect x="382.00" y="317.35" width="15.30" height="8.15" fill="#f1e51d"/>
<text x="389.50" y="323.25" font-size="5.6" fill="#262626" stroke="#262626" stroke-width="0.16" text-anchor="middle" textLength="11.6" lengthAdjust="spacingAndGlyphs">89.5</text>
<rect x="382.00" y="325.20" width="15.30" height="8.15" fill="#dae319"/>
<text x="389.50" y="331.10" font-size="5.6" fill="#262626" stroke="#262626" stroke-width="0.16" text-anchor="middle" textLength="11.6" lengthAdjust="spacingAndGlyphs">87.4</text>
<rect x="382.00" y="333.05" width="15.30" height="8.15" fill="#fde725"/>
<text x="389.50" y="338.95" font-size="5.6" fill="#262626" stroke="#262626" stroke-width="0.16" text-anchor="middle" textLength="11.6" lengthAdjust="spacingAndGlyphs">90.9</text>
<rect x="292.0" y="246.6" width="105.0" height="15.8" fill="#fff" stroke="#222" stroke-width="0.6"/>
<line x1="292.0" y1="254.4" x2="397.0" y2="254.4" stroke="#222" stroke-width="0.6"/>
<line x1="322.0" y1="254.4" x2="322.0" y2="340.9" stroke="#222" stroke-width="0.6"/>
<rect x="292.0" y="262.4" width="105.0" height="78.5" fill="none" stroke="#222" stroke-width="0.6"/>
<text x="344.5" y="252.1" font-size="5.9" fill="#222" text-anchor="middle">iGSM-hard_pq</text>
<text x="307.0" y="260.3" font-size="5.9" fill="#222" text-anchor="middle">in-dist</text>
<text x="359.5" y="260.3" font-size="5.9" fill="#222" text-anchor="middle" textLength="47" lengthAdjust="spacingAndGlyphs">out-of-dist (OOD)</text>
<line x1="299.5" y1="340.9" x2="299.5" y2="342.8" stroke="#333" stroke-width="0.5"/>
<text x="274.00" y="345.5" font-size="6.3" fill="#333" textLength="22.5" lengthAdjust="spacingAndGlyphs" transform="rotate(-31 296.50 345.5)" dy="4.6">op ≤ 21</text>
<line x1="314.5" y1="340.9" x2="314.5" y2="342.8" stroke="#333" stroke-width="0.5"/>
<text x="292.90" y="345.5" font-size="6.3" fill="#333" textLength="18.6" lengthAdjust="spacingAndGlyphs" transform="rotate(-31 311.50 345.5)" dy="4.6">op=21</text>
<line x1="329.5" y1="340.9" x2="329.5" y2="342.8" stroke="#333" stroke-width="0.5"/>
<text x="307.90" y="345.5" font-size="6.3" fill="#333" textLength="18.6" lengthAdjust="spacingAndGlyphs" transform="rotate(-31 326.50 345.5)" dy="4.6">op=28</text>
<line x1="344.5" y1="340.9" x2="344.5" y2="342.8" stroke="#333" stroke-width="0.5"/>
<text x="322.90" y="345.5" font-size="6.3" fill="#333" textLength="18.6" lengthAdjust="spacingAndGlyphs" transform="rotate(-31 341.50 345.5)" dy="4.6">op=29</text>
<line x1="359.5" y1="340.9" x2="359.5" y2="342.8" stroke="#333" stroke-width="0.5"/>
<text x="337.90" y="345.5" font-size="6.3" fill="#333" textLength="18.6" lengthAdjust="spacingAndGlyphs" transform="rotate(-31 356.50 345.5)" dy="4.6">op=30</text>
<line x1="374.5" y1="340.9" x2="374.5" y2="342.8" stroke="#333" stroke-width="0.5"/>
<text x="352.90" y="345.5" font-size="6.3" fill="#333" textLength="18.6" lengthAdjust="spacingAndGlyphs" transform="rotate(-31 371.50 345.5)" dy="4.6">op=31</text>
<line x1="389.5" y1="340.9" x2="389.5" y2="342.8" stroke="#333" stroke-width="0.5"/>
<text x="367.90" y="345.5" font-size="6.3" fill="#333" textLength="18.6" lengthAdjust="spacingAndGlyphs" transform="rotate(-31 386.50 345.5)" dy="4.6">op=32</text>
<rect x="397.00" y="262.40" width="15.30" height="8.15" fill="#440154"/>
<text x="404.50" y="268.30" font-size="5.6" fill="#fff" stroke="#fff" stroke-width="0.16" text-anchor="middle" textLength="11.6" lengthAdjust="spacingAndGlyphs">99.1</text>
<rect x="397.00" y="270.25" width="15.30" height="8.15" fill="#31688e"/>
<text x="404.50" y="276.15" font-size="5.6" fill="#fff" stroke="#fff" stroke-width="0.16" text-anchor="middle" textLength="11.6" lengthAdjust="spacingAndGlyphs">99.4</text>
<rect x="397.00" y="278.10" width="15.30" height="8.15" fill="#f1e51d"/>
<text x="404.50" y="284.00" font-size="5.6" fill="#262626" stroke="#262626" stroke-width="0.16" text-anchor="middle" textLength="9.2" lengthAdjust="spacingAndGlyphs">100</text>
<rect x="397.00" y="285.95" width="15.30" height="8.15" fill="#fde725"/>
<text x="404.50" y="291.85" font-size="5.6" fill="#262626" stroke="#262626" stroke-width="0.16" text-anchor="middle" textLength="9.2" lengthAdjust="spacingAndGlyphs">100</text>
<rect x="397.00" y="293.80" width="15.30" height="8.15" fill="#f8e621"/>
<text x="404.50" y="299.70" font-size="5.6" fill="#262626" stroke="#262626" stroke-width="0.16" text-anchor="middle" textLength="9.2" lengthAdjust="spacingAndGlyphs">100</text>
<rect x="397.00" y="301.65" width="15.30" height="8.15" fill="#fde725"/>
<text x="404.50" y="307.55" font-size="5.6" fill="#262626" stroke="#262626" stroke-width="0.16" text-anchor="middle" textLength="9.2" lengthAdjust="spacingAndGlyphs">100</text>
<rect x="397.00" y="309.50" width="15.30" height="8.15" fill="#f8e621"/>
<text x="404.50" y="315.40" font-size="5.6" fill="#262626" stroke="#262626" stroke-width="0.16" text-anchor="middle" textLength="9.2" lengthAdjust="spacingAndGlyphs">100</text>
<rect x="397.00" y="317.35" width="15.30" height="8.15" fill="#fde725"/>
<text x="404.50" y="323.25" font-size="5.6" fill="#262626" stroke="#262626" stroke-width="0.16" text-anchor="middle" textLength="9.2" lengthAdjust="spacingAndGlyphs">100</text>
<rect x="397.00" y="325.20" width="15.30" height="8.15" fill="#fde725"/>
<text x="404.50" y="331.10" font-size="5.6" fill="#262626" stroke="#262626" stroke-width="0.16" text-anchor="middle" textLength="9.2" lengthAdjust="spacingAndGlyphs">100</text>
<rect x="397.00" y="333.05" width="15.30" height="8.15" fill="#fde725"/>
<text x="404.50" y="338.95" font-size="5.6" fill="#262626" stroke="#262626" stroke-width="0.16" text-anchor="middle" textLength="9.2" lengthAdjust="spacingAndGlyphs">100</text>
<rect x="412.00" y="262.40" width="15.30" height="8.15" fill="#440154"/>
<text x="419.50" y="268.30" font-size="5.6" fill="#fff" stroke="#fff" stroke-width="0.16" text-anchor="middle" textLength="11.6" lengthAdjust="spacingAndGlyphs">89.8</text>
<rect x="412.00" y="270.25" width="15.30" height="8.15" fill="#3e4c8a"/>
<text x="419.50" y="276.15" font-size="5.6" fill="#fff" stroke="#fff" stroke-width="0.16" text-anchor="middle" textLength="11.6" lengthAdjust="spacingAndGlyphs">92.1</text>
<rect x="412.00" y="278.10" width="15.30" height="8.15" fill="#c5e021"/>
<text x="419.50" y="284.00" font-size="5.6" fill="#262626" stroke="#262626" stroke-width="0.16" text-anchor="middle" textLength="11.6" lengthAdjust="spacingAndGlyphs">99.0</text>
<rect x="412.00" y="285.95" width="15.30" height="8.15" fill="#cae11f"/>
<text x="419.50" y="291.85" font-size="5.6" fill="#262626" stroke="#262626" stroke-width="0.16" text-anchor="middle" textLength="11.6" lengthAdjust="spacingAndGlyphs">99.1</text>
<rect x="412.00" y="293.80" width="15.30" height="8.15" fill="#d8e219"/>
<text x="419.50" y="299.70" font-size="5.6" fill="#262626" stroke="#262626" stroke-width="0.16" text-anchor="middle" textLength="11.6" lengthAdjust="spacingAndGlyphs">99.3</text>
<rect x="412.00" y="301.65" width="15.30" height="8.15" fill="#e5e419"/>
<text x="419.50" y="307.55" font-size="5.6" fill="#262626" stroke="#262626" stroke-width="0.16" text-anchor="middle" textLength="11.6" lengthAdjust="spacingAndGlyphs">99.5</text>
<rect x="412.00" y="309.50" width="15.30" height="8.15" fill="#dfe318"/>
<text x="419.50" y="315.40" font-size="5.6" fill="#262626" stroke="#262626" stroke-width="0.16" text-anchor="middle" textLength="11.6" lengthAdjust="spacingAndGlyphs">99.4</text>
<rect x="412.00" y="317.35" width="15.30" height="8.15" fill="#f8e621"/>
<text x="419.50" y="323.25" font-size="5.6" fill="#262626" stroke="#262626" stroke-width="0.16" text-anchor="middle" textLength="11.6" lengthAdjust="spacingAndGlyphs">99.8</text>
<rect x="412.00" y="325.20" width="15.30" height="8.15" fill="#ece51b"/>
<text x="419.50" y="331.10" font-size="5.6" fill="#262626" stroke="#262626" stroke-width="0.16" text-anchor="middle" textLength="11.6" lengthAdjust="spacingAndGlyphs">99.6</text>
<rect x="412.00" y="333.05" width="15.30" height="8.15" fill="#fde725"/>
<text x="419.50" y="338.95" font-size="5.6" fill="#262626" stroke="#262626" stroke-width="0.16" text-anchor="middle" textLength="11.6" lengthAdjust="spacingAndGlyphs">99.9</text>
<rect x="427.00" y="262.40" width="15.30" height="8.15" fill="#440154"/>
<text x="434.50" y="268.30" font-size="5.6" fill="#fff" stroke="#fff" stroke-width="0.16" text-anchor="middle" textLength="11.6" lengthAdjust="spacingAndGlyphs">69.4</text>
<rect x="427.00" y="270.25" width="15.30" height="8.15" fill="#433e85"/>
<text x="434.50" y="276.15" font-size="5.6" fill="#fff" stroke="#fff" stroke-width="0.16" text-anchor="middle" textLength="11.6" lengthAdjust="spacingAndGlyphs">74.5</text>
<rect x="427.00" y="278.10" width="15.30" height="8.15" fill="#81d34d"/>
<text x="434.50" y="284.00" font-size="5.6" fill="#262626" stroke="#262626" stroke-width="0.16" text-anchor="middle" textLength="11.6" lengthAdjust="spacingAndGlyphs">92.2</text>
<rect x="427.00" y="285.95" width="15.30" height="8.15" fill="#a0da39"/>
<text x="434.50" y="291.85" font-size="5.6" fill="#262626" stroke="#262626" stroke-width="0.16" text-anchor="middle" textLength="11.6" lengthAdjust="spacingAndGlyphs">93.5</text>
<rect x="427.00" y="293.80" width="15.30" height="8.15" fill="#cae11f"/>
<text x="434.50" y="299.70" font-size="5.6" fill="#262626" stroke="#262626" stroke-width="0.16" text-anchor="middle" textLength="11.6" lengthAdjust="spacingAndGlyphs">95.3</text>
<rect x="427.00" y="301.65" width="15.30" height="8.15" fill="#b8de29"/>
<text x="434.50" y="307.55" font-size="5.6" fill="#262626" stroke="#262626" stroke-width="0.16" text-anchor="middle" textLength="11.6" lengthAdjust="spacingAndGlyphs">94.5</text>
<rect x="427.00" y="309.50" width="15.30" height="8.15" fill="#d8e219"/>
<text x="434.50" y="315.40" font-size="5.6" fill="#262626" stroke="#262626" stroke-width="0.16" text-anchor="middle" textLength="11.6" lengthAdjust="spacingAndGlyphs">95.8</text>
<rect x="427.00" y="317.35" width="15.30" height="8.15" fill="#fbe723"/>
<text x="434.50" y="323.25" font-size="5.6" fill="#262626" stroke="#262626" stroke-width="0.16" text-anchor="middle" textLength="11.6" lengthAdjust="spacingAndGlyphs">97.3</text>
<rect x="427.00" y="325.20" width="15.30" height="8.15" fill="#eae51a"/>
<text x="434.50" y="331.10" font-size="5.6" fill="#262626" stroke="#262626" stroke-width="0.16" text-anchor="middle" textLength="11.6" lengthAdjust="spacingAndGlyphs">96.6</text>
<rect x="427.00" y="333.05" width="15.30" height="8.15" fill="#fde725"/>
<text x="434.50" y="338.95" font-size="5.6" fill="#262626" stroke="#262626" stroke-width="0.16" text-anchor="middle" textLength="11.6" lengthAdjust="spacingAndGlyphs">97.5</text>
<rect x="442.00" y="262.40" width="15.30" height="8.15" fill="#440154"/>
<text x="449.50" y="268.30" font-size="5.6" fill="#fff" stroke="#fff" stroke-width="0.16" text-anchor="middle" textLength="11.6" lengthAdjust="spacingAndGlyphs">62.2</text>
<rect x="442.00" y="270.25" width="15.30" height="8.15" fill="#3f4889"/>
<text x="449.50" y="276.15" font-size="5.6" fill="#fff" stroke="#fff" stroke-width="0.16" text-anchor="middle" textLength="11.6" lengthAdjust="spacingAndGlyphs">69.5</text>
<rect x="442.00" y="278.10" width="15.30" height="8.15" fill="#81d34d"/>
<text x="449.50" y="284.00" font-size="5.6" fill="#262626" stroke="#262626" stroke-width="0.16" text-anchor="middle" textLength="11.6" lengthAdjust="spacingAndGlyphs">89.6</text>
<rect x="442.00" y="285.95" width="15.30" height="8.15" fill="#a2da37"/>
<text x="449.50" y="291.85" font-size="5.6" fill="#262626" stroke="#262626" stroke-width="0.16" text-anchor="middle" textLength="11.6" lengthAdjust="spacingAndGlyphs">91.3</text>
<rect x="442.00" y="293.80" width="15.30" height="8.15" fill="#c5e021"/>
<text x="449.50" y="299.70" font-size="5.6" fill="#262626" stroke="#262626" stroke-width="0.16" text-anchor="middle" textLength="11.6" lengthAdjust="spacingAndGlyphs">93.0</text>
<rect x="442.00" y="301.65" width="15.30" height="8.15" fill="#addc30"/>
<text x="449.50" y="307.55" font-size="5.6" fill="#262626" stroke="#262626" stroke-width="0.16" text-anchor="middle" textLength="11.6" lengthAdjust="spacingAndGlyphs">91.9</text>
<rect x="442.00" y="309.50" width="15.30" height="8.15" fill="#d5e21a"/>
<text x="449.50" y="315.40" font-size="5.6" fill="#262626" stroke="#262626" stroke-width="0.16" text-anchor="middle" textLength="11.6" lengthAdjust="spacingAndGlyphs">93.8</text>
<rect x="442.00" y="317.35" width="15.30" height="8.15" fill="#fde725"/>
<text x="449.50" y="323.25" font-size="5.6" fill="#262626" stroke="#262626" stroke-width="0.16" text-anchor="middle" textLength="11.6" lengthAdjust="spacingAndGlyphs">96.0</text>
<rect x="442.00" y="325.20" width="15.30" height="8.15" fill="#e2e418"/>
<text x="449.50" y="331.10" font-size="5.6" fill="#262626" stroke="#262626" stroke-width="0.16" text-anchor="middle" textLength="11.6" lengthAdjust="spacingAndGlyphs">94.5</text>
<rect x="442.00" y="333.05" width="15.30" height="8.15" fill="#fde725"/>
<text x="449.50" y="338.95" font-size="5.6" fill="#262626" stroke="#262626" stroke-width="0.16" text-anchor="middle" textLength="11.6" lengthAdjust="spacingAndGlyphs">96.0</text>
<rect x="457.00" y="262.40" width="15.30" height="8.15" fill="#440154"/>
<text x="464.50" y="268.30" font-size="5.6" fill="#fff" stroke="#fff" stroke-width="0.16" text-anchor="middle" textLength="11.6" lengthAdjust="spacingAndGlyphs">57.8</text>
<rect x="457.00" y="270.25" width="15.30" height="8.15" fill="#423f85"/>
<text x="464.50" y="276.15" font-size="5.6" fill="#fff" stroke="#fff" stroke-width="0.16" text-anchor="middle" textLength="11.6" lengthAdjust="spacingAndGlyphs">64.7</text>
<rect x="457.00" y="278.10" width="15.30" height="8.15" fill="#63cb5f"/>
<text x="464.50" y="284.00" font-size="5.6" fill="#262626" stroke="#262626" stroke-width="0.16" text-anchor="middle" textLength="11.6" lengthAdjust="spacingAndGlyphs">86.2</text>
<rect x="457.00" y="285.95" width="15.30" height="8.15" fill="#93d741"/>
<text x="464.50" y="291.85" font-size="5.6" fill="#262626" stroke="#262626" stroke-width="0.16" text-anchor="middle" textLength="11.6" lengthAdjust="spacingAndGlyphs">89.1</text>
<rect x="457.00" y="293.80" width="15.30" height="8.15" fill="#c5e021"/>
<text x="464.50" y="299.70" font-size="5.6" fill="#262626" stroke="#262626" stroke-width="0.16" text-anchor="middle" textLength="11.6" lengthAdjust="spacingAndGlyphs">91.9</text>
<rect x="457.00" y="301.65" width="15.30" height="8.15" fill="#8ed645"/>
<text x="464.50" y="307.55" font-size="5.6" fill="#262626" stroke="#262626" stroke-width="0.16" text-anchor="middle" textLength="11.6" lengthAdjust="spacingAndGlyphs">88.9</text>
<rect x="457.00" y="309.50" width="15.30" height="8.15" fill="#cde11d"/>
<text x="464.50" y="315.40" font-size="5.6" fill="#262626" stroke="#262626" stroke-width="0.16" text-anchor="middle" textLength="11.6" lengthAdjust="spacingAndGlyphs">92.4</text>
<rect x="457.00" y="317.35" width="15.30" height="8.15" fill="#efe51c"/>
<text x="464.50" y="323.25" font-size="5.6" fill="#262626" stroke="#262626" stroke-width="0.16" text-anchor="middle" textLength="11.6" lengthAdjust="spacingAndGlyphs">94.2</text>
<rect x="457.00" y="325.20" width="15.30" height="8.15" fill="#d5e21a"/>
<text x="464.50" y="331.10" font-size="5.6" fill="#262626" stroke="#262626" stroke-width="0.16" text-anchor="middle" textLength="11.6" lengthAdjust="spacingAndGlyphs">92.8</text>
<rect x="457.00" y="333.05" width="15.30" height="8.15" fill="#fde725"/>
<text x="464.50" y="338.95" font-size="5.6" fill="#262626" stroke="#262626" stroke-width="0.16" text-anchor="middle" textLength="11.6" lengthAdjust="spacingAndGlyphs">95.2</text>
<rect x="472.00" y="262.40" width="15.30" height="8.15" fill="#440154"/>
<text x="479.50" y="268.30" font-size="5.6" fill="#fff" stroke="#fff" stroke-width="0.16" text-anchor="middle" textLength="11.6" lengthAdjust="spacingAndGlyphs">52.3</text>
<rect x="472.00" y="270.25" width="15.30" height="8.15" fill="#443a83"/>
<text x="479.50" y="276.15" font-size="5.6" fill="#fff" stroke="#fff" stroke-width="0.16" text-anchor="middle" textLength="11.6" lengthAdjust="spacingAndGlyphs">59.1</text>
<rect x="472.00" y="278.10" width="15.30" height="8.15" fill="#5ec962"/>
<text x="479.50" y="284.00" font-size="5.6" fill="#262626" stroke="#262626" stroke-width="0.16" text-anchor="middle" textLength="11.6" lengthAdjust="spacingAndGlyphs">82.4</text>
<rect x="472.00" y="285.95" width="15.30" height="8.15" fill="#90d743"/>
<text x="479.50" y="291.85" font-size="5.6" fill="#262626" stroke="#262626" stroke-width="0.16" text-anchor="middle" textLength="11.6" lengthAdjust="spacingAndGlyphs">85.7</text>
<rect x="472.00" y="293.80" width="15.30" height="8.15" fill="#b5de2b"/>
<text x="479.50" y="299.70" font-size="5.6" fill="#262626" stroke="#262626" stroke-width="0.16" text-anchor="middle" textLength="11.6" lengthAdjust="spacingAndGlyphs">88.0</text>
<rect x="472.00" y="301.65" width="15.30" height="8.15" fill="#a2da37"/>
<text x="479.50" y="307.55" font-size="5.6" fill="#262626" stroke="#262626" stroke-width="0.16" text-anchor="middle" textLength="11.6" lengthAdjust="spacingAndGlyphs">86.8</text>
<rect x="472.00" y="309.50" width="15.30" height="8.15" fill="#c5e021"/>
<text x="479.50" y="315.40" font-size="5.6" fill="#262626" stroke="#262626" stroke-width="0.16" text-anchor="middle" textLength="11.6" lengthAdjust="spacingAndGlyphs">88.9</text>
<rect x="472.00" y="317.35" width="15.30" height="8.15" fill="#f6e620"/>
<text x="479.50" y="323.25" font-size="5.6" fill="#262626" stroke="#262626" stroke-width="0.16" text-anchor="middle" textLength="11.6" lengthAdjust="spacingAndGlyphs">91.9</text>
<rect x="472.00" y="325.20" width="15.30" height="8.15" fill="#dae319"/>
<text x="479.50" y="331.10" font-size="5.6" fill="#262626" stroke="#262626" stroke-width="0.16" text-anchor="middle" textLength="11.6" lengthAdjust="spacingAndGlyphs">90.1</text>
<rect x="472.00" y="333.05" width="15.30" height="8.15" fill="#fde725"/>
<text x="479.50" y="338.95" font-size="5.6" fill="#262626" stroke="#262626" stroke-width="0.16" text-anchor="middle" textLength="11.6" lengthAdjust="spacingAndGlyphs">92.4</text>
<rect x="487.00" y="262.40" width="15.30" height="8.15" fill="#440154"/>
<text x="494.50" y="268.30" font-size="5.6" fill="#fff" stroke="#fff" stroke-width="0.16" text-anchor="middle" textLength="11.6" lengthAdjust="spacingAndGlyphs">45.7</text>
<rect x="487.00" y="270.25" width="15.30" height="8.15" fill="#443a83"/>
<text x="494.50" y="276.15" font-size="5.6" fill="#fff" stroke="#fff" stroke-width="0.16" text-anchor="middle" textLength="11.6" lengthAdjust="spacingAndGlyphs">53.2</text>
<rect x="487.00" y="278.10" width="15.30" height="8.15" fill="#4cc26c"/>
<text x="494.50" y="284.00" font-size="5.6" fill="#262626" stroke="#262626" stroke-width="0.16" text-anchor="middle" textLength="11.6" lengthAdjust="spacingAndGlyphs">77.3</text>
<rect x="487.00" y="285.95" width="15.30" height="8.15" fill="#7fd34e"/>
<text x="494.50" y="291.85" font-size="5.6" fill="#262626" stroke="#262626" stroke-width="0.16" text-anchor="middle" textLength="11.6" lengthAdjust="spacingAndGlyphs">81.2</text>
<rect x="487.00" y="293.80" width="15.30" height="8.15" fill="#b0dd2f"/>
<text x="494.50" y="299.70" font-size="5.6" fill="#262626" stroke="#262626" stroke-width="0.16" text-anchor="middle" textLength="11.6" lengthAdjust="spacingAndGlyphs">84.5</text>
<rect x="487.00" y="301.65" width="15.30" height="8.15" fill="#81d34d"/>
<text x="494.50" y="307.55" font-size="5.6" fill="#262626" stroke="#262626" stroke-width="0.16" text-anchor="middle" textLength="11.6" lengthAdjust="spacingAndGlyphs">81.3</text>
<rect x="487.00" y="309.50" width="15.30" height="8.15" fill="#c5e021"/>
<text x="494.50" y="315.40" font-size="5.6" fill="#262626" stroke="#262626" stroke-width="0.16" text-anchor="middle" textLength="11.6" lengthAdjust="spacingAndGlyphs">85.8</text>
<rect x="487.00" y="317.35" width="15.30" height="8.15" fill="#f4e61e"/>
<text x="494.50" y="323.25" font-size="5.6" fill="#262626" stroke="#262626" stroke-width="0.16" text-anchor="middle" textLength="11.6" lengthAdjust="spacingAndGlyphs">88.9</text>
<rect x="487.00" y="325.20" width="15.30" height="8.15" fill="#d0e11c"/>
<text x="494.50" y="331.10" font-size="5.6" fill="#262626" stroke="#262626" stroke-width="0.16" text-anchor="middle" textLength="11.6" lengthAdjust="spacingAndGlyphs">86.5</text>
<rect x="487.00" y="333.05" width="15.30" height="8.15" fill="#fde725"/>
<text x="494.50" y="338.95" font-size="5.6" fill="#262626" stroke="#262626" stroke-width="0.16" text-anchor="middle" textLength="11.6" lengthAdjust="spacingAndGlyphs">89.7</text>
<rect x="397.0" y="246.6" width="105.0" height="15.8" fill="#fff" stroke="#222" stroke-width="0.6"/>
<line x1="397.0" y1="254.4" x2="502.0" y2="254.4" stroke="#222" stroke-width="0.6"/>
<line x1="427.0" y1="254.4" x2="427.0" y2="340.9" stroke="#222" stroke-width="0.6"/>
<rect x="397.0" y="262.4" width="105.0" height="78.5" fill="none" stroke="#222" stroke-width="0.6"/>
<text x="449.5" y="252.1" font-size="5.9" fill="#222" text-anchor="middle">iGSM-hard_qp</text>
<text x="412.0" y="260.3" font-size="5.9" fill="#222" text-anchor="middle">in-dist</text>
<text x="464.5" y="260.3" font-size="5.9" fill="#222" text-anchor="middle" textLength="47" lengthAdjust="spacingAndGlyphs">out-of-dist (OOD)</text>
<line x1="404.5" y1="340.9" x2="404.5" y2="342.8" stroke="#333" stroke-width="0.5"/>
<text x="379.00" y="345.5" font-size="6.3" fill="#333" textLength="22.5" lengthAdjust="spacingAndGlyphs" transform="rotate(-31 401.50 345.5)" dy="4.6">op ≤ 21</text>
<line x1="419.5" y1="340.9" x2="419.5" y2="342.8" stroke="#333" stroke-width="0.5"/>
<text x="397.90" y="345.5" font-size="6.3" fill="#333" textLength="18.6" lengthAdjust="spacingAndGlyphs" transform="rotate(-31 416.50 345.5)" dy="4.6">op=21</text>
<line x1="434.5" y1="340.9" x2="434.5" y2="342.8" stroke="#333" stroke-width="0.5"/>
<text x="412.90" y="345.5" font-size="6.3" fill="#333" textLength="18.6" lengthAdjust="spacingAndGlyphs" transform="rotate(-31 431.50 345.5)" dy="4.6">op=28</text>
<line x1="449.5" y1="340.9" x2="449.5" y2="342.8" stroke="#333" stroke-width="0.5"/>
<text x="427.90" y="345.5" font-size="6.3" fill="#333" textLength="18.6" lengthAdjust="spacingAndGlyphs" transform="rotate(-31 446.50 345.5)" dy="4.6">op=29</text>
<line x1="464.5" y1="340.9" x2="464.5" y2="342.8" stroke="#333" stroke-width="0.5"/>
<text x="442.90" y="345.5" font-size="6.3" fill="#333" textLength="18.6" lengthAdjust="spacingAndGlyphs" transform="rotate(-31 461.50 345.5)" dy="4.6">op=30</text>
<line x1="479.5" y1="340.9" x2="479.5" y2="342.8" stroke="#333" stroke-width="0.5"/>
<text x="457.90" y="345.5" font-size="6.3" fill="#333" textLength="18.6" lengthAdjust="spacingAndGlyphs" transform="rotate(-31 476.50 345.5)" dy="4.6">op=31</text>
<line x1="494.5" y1="340.9" x2="494.5" y2="342.8" stroke="#333" stroke-width="0.5"/>
<text x="472.90" y="345.5" font-size="6.3" fill="#333" textLength="18.6" lengthAdjust="spacingAndGlyphs" transform="rotate(-31 491.50 345.5)" dy="4.6">op=32</text>
<text x="93.3" y="268.30" font-size="6.2" fill="#333" stroke="#333" stroke-width="0.14" text-anchor="end">dep4 - size1 - head21</text>
<line x1="95" y1="266.32" x2="97" y2="266.32" stroke="#333" stroke-width="0.5"/>
<text x="93.3" y="276.15" font-size="6.2" fill="#333" stroke="#333" stroke-width="0.14" text-anchor="end">dep4 - size2 - head10</text>
<line x1="95" y1="274.18" x2="97" y2="274.18" stroke="#333" stroke-width="0.5"/>
<text x="93.3" y="284.00" font-size="6.2" fill="#333" stroke="#333" stroke-width="0.14" text-anchor="end">dep8 - size1 - head15</text>
<line x1="95" y1="282.02" x2="97" y2="282.02" stroke="#333" stroke-width="0.5"/>
<text x="93.3" y="291.85" font-size="6.2" fill="#333" stroke="#333" stroke-width="0.14" text-anchor="end">dep8 - size2 - head21</text>
<line x1="95" y1="289.88" x2="97" y2="289.88" stroke="#333" stroke-width="0.5"/>
<text x="93.3" y="299.70" font-size="6.2" fill="#333" stroke="#333" stroke-width="0.14" text-anchor="end">dep12 - size1 - head12</text>
<line x1="95" y1="297.72" x2="97" y2="297.72" stroke="#333" stroke-width="0.5"/>
<text x="93.3" y="307.55" font-size="6.2" fill="#333" stroke="#333" stroke-width="0.14" text-anchor="end">dep12 - size2 - head17</text>
<line x1="95" y1="305.57" x2="97" y2="305.57" stroke="#333" stroke-width="0.5"/>
<text x="93.3" y="315.40" font-size="6.2" fill="#333" stroke="#333" stroke-width="0.14" text-anchor="end">dep16 - size1 - head10</text>
<line x1="95" y1="313.43" x2="97" y2="313.43" stroke="#333" stroke-width="0.5"/>
<text x="93.3" y="323.25" font-size="6.2" fill="#333" stroke="#333" stroke-width="0.14" text-anchor="end">dep16 - size2 - head15</text>
<line x1="95" y1="321.27" x2="97" y2="321.27" stroke="#333" stroke-width="0.5"/>
<text x="93.3" y="331.10" font-size="6.2" fill="#333" stroke="#333" stroke-width="0.14" text-anchor="end">dep20 - size1 - head9</text>
<line x1="95" y1="329.12" x2="97" y2="329.12" stroke="#333" stroke-width="0.5"/>
<text x="93.3" y="338.95" font-size="6.2" fill="#333" stroke="#333" stroke-width="0.14" text-anchor="end">dep20 - size2 - head13</text>
<line x1="95" y1="336.97" x2="97" y2="336.97" stroke="#333" stroke-width="0.5"/>
<line x1="95" y1="250.4" x2="97" y2="250.4" stroke="#333" stroke-width="0.5"/>
<line x1="95" y1="258.2" x2="97" y2="258.2" stroke="#333" stroke-width="0.5"/>
<rect x="517.0" y="262.40" width="14.5" height="8.15" fill="#472e7c"/>
<text x="524.25" y="268.30" font-size="5.6" fill="#fff" stroke="#fff" stroke-width="0.16" text-anchor="middle" textLength="11.6" lengthAdjust="spacingAndGlyphs">72.2</text>
<rect x="517.0" y="270.25" width="14.5" height="8.15" fill="#440154"/>
<text x="524.25" y="276.15" font-size="5.6" fill="#fff" stroke="#fff" stroke-width="0.16" text-anchor="middle" textLength="11.6" lengthAdjust="spacingAndGlyphs">68.8</text>
<rect x="517.0" y="278.10" width="14.5" height="8.15" fill="#89d548"/>
<text x="524.25" y="284.00" font-size="5.6" fill="#262626" stroke="#262626" stroke-width="0.16" text-anchor="middle" textLength="11.6" lengthAdjust="spacingAndGlyphs">90.3</text>
<rect x="517.0" y="285.95" width="14.5" height="8.15" fill="#a0da39"/>
<text x="524.25" y="291.85" font-size="5.6" fill="#262626" stroke="#262626" stroke-width="0.16" text-anchor="middle" textLength="11.6" lengthAdjust="spacingAndGlyphs">91.3</text>
<rect x="517.0" y="293.80" width="14.5" height="8.15" fill="#b0dd2f"/>
<text x="524.25" y="299.70" font-size="5.6" fill="#262626" stroke="#262626" stroke-width="0.16" text-anchor="middle" textLength="11.6" lengthAdjust="spacingAndGlyphs">91.9</text>
<rect x="517.0" y="301.65" width="14.5" height="8.15" fill="#b5de2b"/>
<text x="524.25" y="307.55" font-size="5.6" fill="#262626" stroke="#262626" stroke-width="0.16" text-anchor="middle" textLength="11.6" lengthAdjust="spacingAndGlyphs">92.1</text>
<rect x="517.0" y="309.50" width="14.5" height="8.15" fill="#c0df25"/>
<text x="524.25" y="315.40" font-size="5.6" fill="#262626" stroke="#262626" stroke-width="0.16" text-anchor="middle" textLength="11.6" lengthAdjust="spacingAndGlyphs">92.5</text>
<rect x="517.0" y="317.35" width="14.5" height="8.15" fill="#fde725"/>
<text x="524.25" y="323.25" font-size="5.6" fill="#262626" stroke="#262626" stroke-width="0.16" text-anchor="middle" textLength="11.6" lengthAdjust="spacingAndGlyphs">95.0</text>
<rect x="517.0" y="325.20" width="14.5" height="8.15" fill="#e7e419"/>
<text x="524.25" y="331.10" font-size="5.6" fill="#262626" stroke="#262626" stroke-width="0.16" text-anchor="middle" textLength="11.6" lengthAdjust="spacingAndGlyphs">94.0</text>
<rect x="517.0" y="333.05" width="14.5" height="8.15" fill="#f8e621"/>
<text x="524.25" y="338.95" font-size="5.6" fill="#262626" stroke="#262626" stroke-width="0.16" text-anchor="middle" textLength="11.6" lengthAdjust="spacingAndGlyphs">94.7</text>
<rect x="517.0" y="246.6" width="14.5" height="94.3" fill="none" stroke="#8a8a8a" stroke-width="0.7"/>
<text x="524.25" y="252.8" font-size="5.8" fill="#333" text-anchor="middle">avg</text>
<path d="M505.2 243.5 H512.8 V349 H516.4 L509.1 357.2 L501.8 349 H505.2 Z" fill="#4577cc"/>
</svg>
<svg class="r" style="left:520px;top:225px" width="300" height="160" viewBox="520 225 300 160"><path d="M546.8 232.8 H806 V287.2 H546.8 V279.5 L534 273.3 L546.8 265 Z" fill="#fdd681" stroke="#f6c547" stroke-width="0.8"/><path d="M546.8 320.2 H806 V374.5 H546.8 V338.5 L532.5 327.8 L546.8 321 Z" fill="#fdd681" stroke="#f6c547" stroke-width="0.8"/></svg>
<span id="o1a" class="t" style="left:562.60px;top:238px;font-size:18.6px;line-height:21px;font-weight:400;color:#000;font-style:normal;transform:scaleX(1.0049);">larger model, smaller depth</span>
<span id="o1b" class="t" style="left:604.00px;top:262px;font-size:18.6px;line-height:21px;font-weight:400;color:#000;font-style:normal;transform:scaleX(0.9812);">(4-layer, 30-head)</span>
<span id="o2a" class="t" style="left:562.60px;top:325px;font-size:18.6px;line-height:21px;font-weight:400;color:#000;font-style:normal;transform:scaleX(1.0049);">smaller model, larger depth</span>
<span id="o2b" class="t" style="left:604.00px;top:349px;font-size:18.6px;line-height:21px;font-weight:400;color:#000;font-style:normal;transform:scaleX(0.9812);">(20-layer, 9-head)</span>
<div class="r" style="left:822.4px;top:197.4px;width:252.60px;height:131.00px;background:linear-gradient(#3c3c3c,#1a1a1a 30%,#000 60%)"></div>
<span id="k1" class="t" style="left:833.30px;top:204px;font-size:17.5px;line-height:20px;font-weight:700;color:#fff;font-style:normal;transform:scaleX(0.9969);">This cannot be mitigated by</span>
<span id="k2" class="t" style="left:841.60px;top:228px;font-size:17.5px;line-height:20px;font-weight:700;color:#fff;font-style:normal;transform:scaleX(0.9915);">CoT – deciding what’s the</span>
<span id="k3" class="t" style="left:857.00px;top:253px;font-size:17.5px;line-height:20px;font-weight:700;color:#fff;font-style:normal;transform:scaleX(0.9750);">first CoT step may still</span>
<span id="k4" class="t" style="left:848.00px;top:277px;font-size:17.5px;line-height:20px;font-weight:700;color:#fff;font-style:normal;transform:scaleX(1.0163);">require deep, multi-step</span>
<span id="k5" class="t" style="left:830.80px;top:301px;font-size:17.5px;line-height:20px;font-weight:700;color:#fff;font-style:normal;transform:scaleX(1.0063);">mental reasoning (planning)</span>
<svg class="r" style="left:810px;top:330px;filter:drop-shadow(1px 1.5px 1.5px rgba(0,0,0,.35))" width="240" height="60" viewBox="810 330 240 60"><defs><linearGradient id="ag" x1="0" x2="1"><stop offset="0" stop-color="#505050"/><stop offset="0.45" stop-color="#000"/></linearGradient></defs><path d="M821.7 350 L833.3 340 V345.3 H1030.5 V382 H1020.7 V354.7 H833.3 V360 Z" fill="url(#ag)"/></svg>
<div class="r" style="left:16px;top:415px;width:1047.70px;height:186.60px;background:linear-gradient(#d4d4d4,#c7c7c7 40%,#bfbfbf)"></div>
<span id="res8" class="t" style="left:977.80px;top:394px;font-size:17.5px;line-height:20px;font-weight:400;color:#a6a6a6;font-style:normal;transform:scaleX(1.0153);">– Result 8</span>
<div class="r" style="left:28px;top:398px;width:534.00px;height:33.00px;background:linear-gradient(#383838,#111 35%,#000 60%)"></div>
<span id="dlabel" class="t" style="left:37.20px;top:406px;font-size:17.5px;line-height:20px;font-weight:700;color:#fff;font-style:normal;transform:scaleX(1.0080);">Depth matters because of the complexity of mental reasoning</span>
<div class="r" style="left:27.7px;top:441.3px;width:585.90px;height:103.70px;background:#fff"></div>
<svg class="r" style="left:20px;top:440px" width="600" height="110" viewBox="20 440 600 110" font-family="Liberation Sans, sans-serif">
<clipPath id="cp0"><rect x="57.5" y="462.5" width="91.0" height="59.0"/></clipPath>
<g clip-path="url(#cp0)" fill="none" stroke-width="1.5" stroke-linejoin="round">
<polyline points="60.90,519.65 72.87,520.23 84.84,520.82 96.81,520.82 108.78,520.82 120.75,521.11 132.72,521.11 144.69,521.11" stroke="#dae8f6"/>
<polyline points="60.90,512.06 72.87,510.89 84.84,513.81 96.81,514.98 108.78,514.98 120.75,514.98 132.72,515.56 144.69,517.31" stroke="#c9ddf0"/>
<polyline points="60.90,491.62 72.87,495.12 84.84,498.04 96.81,501.54 108.78,503.88 120.75,505.63 132.72,507.97 144.69,509.14" stroke="#b5d4e9"/>
<polyline points="60.90,477.02 72.87,476.43 84.84,479.35 96.81,482.27 108.78,485.78 120.75,487.53 132.72,492.20 144.69,488.70" stroke="#add0e6"/>
<polyline points="60.90,471.18 72.87,477.02 84.84,479.35 96.81,482.27 108.78,485.19 120.75,486.94 132.72,489.86 144.69,489.86" stroke="#94c4df"/>
<polyline points="60.90,470.59 72.87,477.60 84.84,479.94 96.81,482.86 108.78,485.78 120.75,488.11 132.72,491.03 144.69,489.28" stroke="#89bedc"/>
<polyline points="60.90,468.26 72.87,470.01 84.84,471.18 96.81,472.93 108.78,473.51 120.75,475.26 132.72,474.68 144.69,475.85" stroke="#7fb9da"/>
<polyline points="60.90,464.75 72.87,465.34 84.84,465.92 96.81,466.50 108.78,466.50 120.75,467.09 132.72,467.09 144.69,465.92" stroke="#9cc9e1"/>
<polyline points="60.90,463.58 72.87,464.17 84.84,464.17 96.81,464.75 108.78,464.75 120.75,464.75 132.72,465.34 144.69,464.75" stroke="#69add5"/>
<polyline points="60.90,463.29 72.87,463.58 84.84,463.58 96.81,463.58 108.78,463.88 120.75,463.88 132.72,463.88 144.69,463.88" stroke="#4d99ca"/>
<polyline points="60.90,463.00 72.87,463.29 84.84,463.29 96.81,463.29 108.78,463.41 120.75,463.41 132.72,463.41 144.69,463.41" stroke="#1764ab"/>
<polyline points="60.90,463.23 72.87,463.23 84.84,463.29 96.81,463.29 108.78,463.29 120.75,463.29 132.72,463.35 144.69,463.35" stroke="#084a91"/>
<polyline points="60.90,464.05 72.87,464.05 84.84,464.05 96.81,464.05 108.78,464.17 120.75,464.17 132.72,464.17 144.69,464.17" stroke="#083c7d"/>
<polyline points="60.90,463.47 72.87,463.47 84.84,463.47 96.81,463.47 108.78,463.47 120.75,463.47 132.72,463.47 144.69,463.47" stroke="#08306b"/>
</g>
<rect x="57.5" y="462.5" width="91.0" height="59.0" fill="none" stroke="#333" stroke-width="1"/>
<line x1="60.90" y1="521.5" x2="60.90" y2="524.7" stroke="#333" stroke-width="0.8"/>
<text x="57.90" y="535.8" font-size="10.5" fill="#333" textLength="6.0" lengthAdjust="spacingAndGlyphs">1</text>
<line x1="72.87" y1="521.5" x2="72.87" y2="524.7" stroke="#333" stroke-width="0.8"/>
<text x="69.87" y="535.8" font-size="10.5" fill="#333" textLength="6.0" lengthAdjust="spacingAndGlyphs">2</text>
<line x1="84.84" y1="521.5" x2="84.84" y2="524.7" stroke="#333" stroke-width="0.8"/>
<text x="81.84" y="535.8" font-size="10.5" fill="#333" textLength="6.0" lengthAdjust="spacingAndGlyphs">3</text>
<line x1="96.81" y1="521.5" x2="96.81" y2="524.7" stroke="#333" stroke-width="0.8"/>
<text x="93.81" y="535.8" font-size="10.5" fill="#333" textLength="6.0" lengthAdjust="spacingAndGlyphs">4</text>
<line x1="108.78" y1="521.5" x2="108.78" y2="524.7" stroke="#333" stroke-width="0.8"/>
<text x="105.78" y="535.8" font-size="10.5" fill="#333" textLength="6.0" lengthAdjust="spacingAndGlyphs">5</text>
<line x1="120.75" y1="521.5" x2="120.75" y2="524.7" stroke="#333" stroke-width="0.8"/>
<text x="117.75" y="535.8" font-size="10.5" fill="#333" textLength="6.0" lengthAdjust="spacingAndGlyphs">6</text>
<line x1="132.72" y1="521.5" x2="132.72" y2="524.7" stroke="#333" stroke-width="0.8"/>
<text x="129.72" y="535.8" font-size="10.5" fill="#333" textLength="6.0" lengthAdjust="spacingAndGlyphs">7</text>
<line x1="144.69" y1="521.5" x2="144.69" y2="524.7" stroke="#333" stroke-width="0.8"/>
<text x="141.69" y="535.8" font-size="10.5" fill="#333" textLength="6.0" lengthAdjust="spacingAndGlyphs">8</text>
<line x1="54.0" y1="521.40" x2="57.5" y2="521.40" stroke="#333" stroke-width="0.8"/>
<text x="44.25" y="525.20" font-size="10.5" fill="#333" textLength="5.95" lengthAdjust="spacingAndGlyphs">0</text>
<line x1="54.0" y1="492.20" x2="57.5" y2="492.20" stroke="#333" stroke-width="0.8"/>
<text x="38.30" y="496.00" font-size="10.5" fill="#333" textLength="11.90" lengthAdjust="spacingAndGlyphs">50</text>
<line x1="54.0" y1="463.00" x2="57.5" y2="463.00" stroke="#333" stroke-width="0.8"/>
<text x="32.35" y="466.80" font-size="10.5" fill="#333" textLength="17.85" lengthAdjust="spacingAndGlyphs">100</text>
<text x="58.7" y="456.6" font-size="12" fill="#333" textLength="87.5" lengthAdjust="spacingAndGlyphs">hard_pq - op21</text>
<clipPath id="cp1"><rect x="184.5" y="462.5" width="92.0" height="59.0"/></clipPath>
<g clip-path="url(#cp1)" fill="none" stroke-width="1.5" stroke-linejoin="round">
<polyline points="188.70,519.65 200.67,520.23 212.64,520.82 224.61,520.82 236.58,520.82 248.55,521.11 260.52,521.11 272.49,521.11" stroke="#dae8f6"/>
<polyline points="188.70,511.47 200.67,511.47 212.64,514.39 224.61,514.98 236.58,516.14 248.55,516.73 260.52,516.14 272.49,515.56" stroke="#c9ddf0"/>
<polyline points="188.70,496.29 200.67,500.38 212.64,503.30 224.61,504.46 236.58,506.80 248.55,508.55 260.52,510.89 272.49,512.06" stroke="#b5d4e9"/>
<polyline points="188.70,481.10 200.67,479.94 212.64,482.86 224.61,486.36 236.58,489.86 248.55,492.78 260.52,495.70 272.49,499.21" stroke="#bad6eb"/>
<polyline points="188.70,477.02 200.67,482.86 212.64,486.36 224.61,489.28 236.58,492.20 248.55,495.12 260.52,498.04 272.49,497.46" stroke="#a1cbe2"/>
<polyline points="188.70,476.43 200.67,485.78 212.64,488.11 224.61,491.03 236.58,493.95 248.55,497.46 260.52,499.79 272.49,498.04" stroke="#91c3de"/>
<polyline points="188.70,473.51 200.67,475.85 212.64,476.43 224.61,478.18 236.58,479.35 248.55,481.10 260.52,480.52 272.49,484.61" stroke="#7fb9da"/>
<polyline points="188.70,463.00 200.67,463.00 212.64,463.00 224.61,463.00 236.58,463.00 248.55,463.00 260.52,463.00 272.49,463.00" stroke="#1b69af"/>
<polyline points="188.70,463.00 200.67,463.58 212.64,463.58 224.61,464.17 236.58,464.17 248.55,464.75 260.52,464.75 272.49,464.17" stroke="#1764ab"/>
<polyline points="188.70,464.75 200.67,465.34 212.64,465.34 224.61,465.92 236.58,465.92 248.55,466.50 260.52,465.92 272.49,464.75" stroke="#135fa7"/>
<polyline points="188.70,467.09 200.67,466.50 212.64,467.09 224.61,467.67 236.58,468.26 248.55,468.84 260.52,467.67 272.49,465.92" stroke="#0a549e"/>
<polyline points="188.70,468.84 200.67,467.67 212.64,468.26 224.61,468.84 236.58,469.42 248.55,470.01 260.52,468.84 272.49,467.09" stroke="#084a91"/>
<polyline points="188.70,470.59 200.67,468.84 212.64,469.42 224.61,470.01 236.58,470.59 248.55,471.76 260.52,470.59 272.49,468.26" stroke="#084082"/>
<polyline points="188.70,472.34 200.67,470.01 212.64,470.01 224.61,470.59 236.58,471.76 248.55,472.34 260.52,471.18 272.49,470.01" stroke="#083573"/>
<polyline points="188.70,473.51 200.67,470.59 212.64,470.59 224.61,471.18 236.58,472.34 248.55,472.93 260.52,471.76 272.49,470.01" stroke="#08306b"/>
</g>
<rect x="184.5" y="462.5" width="92.0" height="59.0" fill="none" stroke="#333" stroke-width="1"/>
<line x1="188.70" y1="521.5" x2="188.70" y2="524.7" stroke="#333" stroke-width="0.8"/>
<text x="185.70" y="535.8" font-size="10.5" fill="#333" textLength="6.0" lengthAdjust="spacingAndGlyphs">1</text>
<line x1="200.67" y1="521.5" x2="200.67" y2="524.7" stroke="#333" stroke-width="0.8"/>
<text x="197.67" y="535.8" font-size="10.5" fill="#333" textLength="6.0" lengthAdjust="spacingAndGlyphs">2</text>
<line x1="212.64" y1="521.5" x2="212.64" y2="524.7" stroke="#333" stroke-width="0.8"/>
<text x="209.64" y="535.8" font-size="10.5" fill="#333" textLength="6.0" lengthAdjust="spacingAndGlyphs">3</text>
<line x1="224.61" y1="521.5" x2="224.61" y2="524.7" stroke="#333" stroke-width="0.8"/>
<text x="221.61" y="535.8" font-size="10.5" fill="#333" textLength="6.0" lengthAdjust="spacingAndGlyphs">4</text>
<line x1="236.58" y1="521.5" x2="236.58" y2="524.7" stroke="#333" stroke-width="0.8"/>
<text x="233.58" y="535.8" font-size="10.5" fill="#333" textLength="6.0" lengthAdjust="spacingAndGlyphs">5</text>
<line x1="248.55" y1="521.5" x2="248.55" y2="524.7" stroke="#333" stroke-width="0.8"/>
<text x="245.55" y="535.8" font-size="10.5" fill="#333" textLength="6.0" lengthAdjust="spacingAndGlyphs">6</text>
<line x1="260.52" y1="521.5" x2="260.52" y2="524.7" stroke="#333" stroke-width="0.8"/>
<text x="257.52" y="535.8" font-size="10.5" fill="#333" textLength="6.0" lengthAdjust="spacingAndGlyphs">7</text>
<line x1="272.49" y1="521.5" x2="272.49" y2="524.7" stroke="#333" stroke-width="0.8"/>
<text x="269.49" y="535.8" font-size="10.5" fill="#333" textLength="6.0" lengthAdjust="spacingAndGlyphs">8</text>
<line x1="181.0" y1="521.40" x2="184.5" y2="521.40" stroke="#333" stroke-width="0.8"/>
<text x="171.25" y="525.20" font-size="10.5" fill="#333" textLength="5.95" lengthAdjust="spacingAndGlyphs">0</text>
<line x1="181.0" y1="492.20" x2="184.5" y2="492.20" stroke="#333" stroke-width="0.8"/>
<text x="165.30" y="496.00" font-size="10.5" fill="#333" textLength="11.90" lengthAdjust="spacingAndGlyphs">50</text>
<line x1="181.0" y1="463.00" x2="184.5" y2="463.00" stroke="#333" stroke-width="0.8"/>
<text x="159.35" y="466.80" font-size="10.5" fill="#333" textLength="17.85" lengthAdjust="spacingAndGlyphs">100</text>
<text x="186.5" y="456.6" font-size="12" fill="#333" textLength="88.2" lengthAdjust="spacingAndGlyphs">hard_pq - op28</text>
<clipPath id="cp2"><rect x="312.5" y="462.5" width="92.0" height="59.0"/></clipPath>
<g clip-path="url(#cp2)" fill="none" stroke-width="1.5" stroke-linejoin="round">
<polyline points="316.50,520.82 328.47,521.11 340.44,521.22 352.41,521.22 364.38,521.22 376.35,521.22 388.32,521.22 400.29,521.22" stroke="#ddeaf7"/>
<polyline points="316.50,516.73 328.47,517.31 340.44,518.48 352.41,518.48 364.38,519.65 376.35,520.23 388.32,520.82 400.29,520.82" stroke="#cddff1"/>
<polyline points="316.50,491.03 328.47,493.95 340.44,498.04 352.41,502.13 364.38,505.63 376.35,506.22 388.32,508.55 400.29,511.47" stroke="#97c6df"/>
<polyline points="316.50,482.86 328.47,489.28 340.44,493.95 352.41,498.62 364.38,502.71 376.35,504.46 388.32,505.63 400.29,506.22" stroke="#add0e6"/>
<polyline points="316.50,481.69 328.47,483.44 340.44,484.61 352.41,488.11 364.38,492.20 376.35,492.20 388.32,492.20 400.29,494.54" stroke="#bdd7ec"/>
<polyline points="316.50,463.00 328.47,468.26 340.44,476.43 352.41,483.44 364.38,486.36 376.35,488.11 388.32,491.62 400.29,488.70" stroke="#8dc1dd"/>
<polyline points="316.50,463.00 328.47,467.67 340.44,474.68 352.41,480.52 364.38,482.86 376.35,484.61 388.32,487.53 400.29,489.28" stroke="#7fb9da"/>
<polyline points="316.50,463.00 328.47,466.50 340.44,471.76 352.41,476.43 364.38,479.35 376.35,479.94 388.32,481.10 400.29,478.77" stroke="#6dafd7"/>
<polyline points="316.50,463.00 328.47,463.58 340.44,465.34 352.41,467.09 364.38,468.84 376.35,469.42 388.32,469.42 400.29,468.84" stroke="#5da5d1"/>
<polyline points="316.50,463.29 328.47,463.29 340.44,463.58 352.41,464.17 364.38,464.75 376.35,465.34 388.32,465.34 400.29,464.75" stroke="#2070b4"/>
<polyline points="316.50,463.35 328.47,463.35 340.44,463.41 352.41,463.58 364.38,463.58 376.35,464.17 388.32,464.17 400.29,464.17" stroke="#084f99"/>
<polyline points="316.50,463.47 328.47,463.47 340.44,463.47 352.41,463.47 364.38,463.47 376.35,463.70 388.32,463.70 400.29,463.47" stroke="#08306b"/>
</g>
<rect x="312.5" y="462.5" width="92.0" height="59.0" fill="none" stroke="#333" stroke-width="1"/>
<line x1="316.50" y1="521.5" x2="316.50" y2="524.7" stroke="#333" stroke-width="0.8"/>
<text x="313.50" y="535.8" font-size="10.5" fill="#333" textLength="6.0" lengthAdjust="spacingAndGlyphs">1</text>
<line x1="328.47" y1="521.5" x2="328.47" y2="524.7" stroke="#333" stroke-width="0.8"/>
<text x="325.47" y="535.8" font-size="10.5" fill="#333" textLength="6.0" lengthAdjust="spacingAndGlyphs">2</text>
<line x1="340.44" y1="521.5" x2="340.44" y2="524.7" stroke="#333" stroke-width="0.8"/>
<text x="337.44" y="535.8" font-size="10.5" fill="#333" textLength="6.0" lengthAdjust="spacingAndGlyphs">3</text>
<line x1="352.41" y1="521.5" x2="352.41" y2="524.7" stroke="#333" stroke-width="0.8"/>
<text x="349.41" y="535.8" font-size="10.5" fill="#333" textLength="6.0" lengthAdjust="spacingAndGlyphs">4</text>
<line x1="364.38" y1="521.5" x2="364.38" y2="524.7" stroke="#333" stroke-width="0.8"/>
<text x="361.38" y="535.8" font-size="10.5" fill="#333" textLength="6.0" lengthAdjust="spacingAndGlyphs">5</text>
<line x1="376.35" y1="521.5" x2="376.35" y2="524.7" stroke="#333" stroke-width="0.8"/>
<text x="373.35" y="535.8" font-size="10.5" fill="#333" textLength="6.0" lengthAdjust="spacingAndGlyphs">6</text>
<line x1="388.32" y1="521.5" x2="388.32" y2="524.7" stroke="#333" stroke-width="0.8"/>
<text x="385.32" y="535.8" font-size="10.5" fill="#333" textLength="6.0" lengthAdjust="spacingAndGlyphs">7</text>
<line x1="400.29" y1="521.5" x2="400.29" y2="524.7" stroke="#333" stroke-width="0.8"/>
<text x="397.29" y="535.8" font-size="10.5" fill="#333" textLength="6.0" lengthAdjust="spacingAndGlyphs">8</text>
<line x1="309.0" y1="521.40" x2="312.5" y2="521.40" stroke="#333" stroke-width="0.8"/>
<text x="299.25" y="525.20" font-size="10.5" fill="#333" textLength="5.95" lengthAdjust="spacingAndGlyphs">0</text>
<line x1="309.0" y1="492.20" x2="312.5" y2="492.20" stroke="#333" stroke-width="0.8"/>
<text x="293.30" y="496.00" font-size="10.5" fill="#333" textLength="11.90" lengthAdjust="spacingAndGlyphs">50</text>
<line x1="309.0" y1="463.00" x2="312.5" y2="463.00" stroke="#333" stroke-width="0.8"/>
<text x="287.35" y="466.80" font-size="10.5" fill="#333" textLength="17.85" lengthAdjust="spacingAndGlyphs">100</text>
<text x="314.4" y="456.6" font-size="12" fill="#333" textLength="87.6" lengthAdjust="spacingAndGlyphs">hard_qp - op21</text>
<clipPath id="cp3"><rect x="439.5" y="462.5" width="93.0" height="59.0"/></clipPath>
<g clip-path="url(#cp3)" fill="none" stroke-width="1.5" stroke-linejoin="round">
<polyline points="444.40,517.39 456.29,517.93 468.18,518.47 480.07,518.47 491.96,518.47 503.85,518.47 515.74,518.47 527.63,518.47" stroke="#dae8f6"/>
<polyline points="444.40,514.18 456.29,515.25 468.18,516.33 480.07,516.86 491.96,517.39 503.85,517.39 515.74,517.93 527.63,517.93" stroke="#cddff1"/>
<polyline points="444.40,498.67 456.29,498.13 468.18,501.35 480.07,504.56 491.96,507.23 503.85,509.37 515.74,509.90 527.63,510.98" stroke="#a1cbe2"/>
<polyline points="444.40,489.04 456.29,493.86 468.18,497.60 480.07,499.74 491.96,502.95 503.85,505.62 515.74,507.23 527.63,507.76" stroke="#b5d4e9"/>
<polyline points="444.40,487.97 456.29,487.97 468.18,489.04 480.07,490.11 491.96,493.32 503.85,494.39 515.74,497.60 527.63,498.67" stroke="#c3daee"/>
<polyline points="444.40,467.64 456.29,473.52 468.18,481.55 480.07,488.50 491.96,492.25 503.85,494.93 515.74,498.13 527.63,501.35" stroke="#97c6df"/>
<polyline points="444.40,467.11 456.29,471.92 468.18,480.48 480.07,487.44 491.96,490.11 503.85,492.79 515.74,495.46 527.63,497.06" stroke="#85bcdc"/>
<polyline points="444.40,466.57 456.29,470.85 468.18,476.74 480.07,483.15 491.96,486.37 503.85,488.50 515.74,490.11 527.63,490.64" stroke="#74b3d8"/>
<polyline points="444.40,467.11 456.29,469.25 468.18,469.25 480.07,471.92 491.96,476.20 503.85,476.74 515.74,479.94 527.63,476.74" stroke="#64a9d3"/>
<polyline points="444.40,467.64 456.29,468.71 468.18,468.71 480.07,470.85 491.96,474.06 503.85,475.13 515.74,476.74 527.63,476.20" stroke="#539ecd"/>
<polyline points="444.40,468.18 456.29,468.18 468.18,468.18 480.07,469.25 491.96,471.38 503.85,472.45 515.74,474.06 527.63,474.06" stroke="#2070b4"/>
<polyline points="444.40,467.64 456.29,467.64 468.18,467.64 480.07,468.71 491.96,470.31 503.85,471.38 515.74,472.99 527.63,472.99" stroke="#135fa7"/>
<polyline points="444.40,467.11 456.29,467.11 468.18,467.11 480.07,467.64 491.96,469.25 503.85,470.31 515.74,471.92 527.63,471.92" stroke="#084a91"/>
<polyline points="444.40,466.57 456.29,466.57 468.18,466.57 480.07,467.11 491.96,468.18 503.85,469.25 515.74,470.85 527.63,471.38" stroke="#083c7d"/>
<polyline points="444.40,466.03 456.29,466.03 468.18,466.03 480.07,466.57 491.96,467.64 503.85,468.71 515.74,470.31 527.63,470.31" stroke="#08306b"/>
</g>
<rect x="439.5" y="462.5" width="93.0" height="59.0" fill="none" stroke="#333" stroke-width="1"/>
<line x1="444.40" y1="521.5" x2="444.40" y2="524.7" stroke="#333" stroke-width="0.8"/>
<text x="441.40" y="535.8" font-size="10.5" fill="#333" textLength="6.0" lengthAdjust="spacingAndGlyphs">1</text>
<line x1="456.29" y1="521.5" x2="456.29" y2="524.7" stroke="#333" stroke-width="0.8"/>
<text x="453.29" y="535.8" font-size="10.5" fill="#333" textLength="6.0" lengthAdjust="spacingAndGlyphs">2</text>
<line x1="468.18" y1="521.5" x2="468.18" y2="524.7" stroke="#333" stroke-width="0.8"/>
<text x="465.18" y="535.8" font-size="10.5" fill="#333" textLength="6.0" lengthAdjust="spacingAndGlyphs">3</text>
<line x1="480.07" y1="521.5" x2="480.07" y2="524.7" stroke="#333" stroke-width="0.8"/>
<text x="477.07" y="535.8" font-size="10.5" fill="#333" textLength="6.0" lengthAdjust="spacingAndGlyphs">4</text>
<line x1="491.96" y1="521.5" x2="491.96" y2="524.7" stroke="#333" stroke-width="0.8"/>
<text x="488.96" y="535.8" font-size="10.5" fill="#333" textLength="6.0" lengthAdjust="spacingAndGlyphs">5</text>
<line x1="503.85" y1="521.5" x2="503.85" y2="524.7" stroke="#333" stroke-width="0.8"/>
<text x="500.85" y="535.8" font-size="10.5" fill="#333" textLength="6.0" lengthAdjust="spacingAndGlyphs">6</text>
<line x1="515.74" y1="521.5" x2="515.74" y2="524.7" stroke="#333" stroke-width="0.8"/>
<text x="512.74" y="535.8" font-size="10.5" fill="#333" textLength="6.0" lengthAdjust="spacingAndGlyphs">7</text>
<line x1="527.63" y1="521.5" x2="527.63" y2="524.7" stroke="#333" stroke-width="0.8"/>
<text x="524.63" y="535.8" font-size="10.5" fill="#333" textLength="6.0" lengthAdjust="spacingAndGlyphs">8</text>
<line x1="436.0" y1="519.00" x2="439.5" y2="519.00" stroke="#333" stroke-width="0.8"/>
<text x="426.25" y="522.80" font-size="10.5" fill="#333" textLength="5.95" lengthAdjust="spacingAndGlyphs">0</text>
<line x1="436.0" y1="492.25" x2="439.5" y2="492.25" stroke="#333" stroke-width="0.8"/>
<text x="420.30" y="496.05" font-size="10.5" fill="#333" textLength="11.90" lengthAdjust="spacingAndGlyphs">50</text>
<line x1="436.0" y1="465.50" x2="439.5" y2="465.50" stroke="#333" stroke-width="0.8"/>
<text x="414.35" y="469.30" font-size="10.5" fill="#333" textLength="17.85" lengthAdjust="spacingAndGlyphs">100</text>
<text x="442" y="456.6" font-size="12" fill="#333" textLength="87.6" lengthAdjust="spacingAndGlyphs">hard_qp - op28</text>
<rect x="536.8" y="461.3" width="71.5" height="60.7" rx="1.5" fill="#fff" stroke="#d4d4d4" stroke-width="0.8"/>
<line x1="540.3" y1="470" x2="560.7" y2="470" stroke="#a6cee4" stroke-width="1.5"/>
<text x="568.5" y="473.7" font-size="10.1" fill="#333" textLength="29.6" lengthAdjust="spacingAndGlyphs">layer5</text>
<line x1="540.3" y1="484.1" x2="560.7" y2="484.1" stroke="#64a9d3" stroke-width="1.5"/>
<text x="568.5" y="487.8" font-size="10.1" fill="#333" textLength="35.9" lengthAdjust="spacingAndGlyphs">layer10</text>
<line x1="540.3" y1="498.3" x2="560.7" y2="498.3" stroke="#2373b6" stroke-width="1.5"/>
<text x="568.5" y="502.0" font-size="10.1" fill="#333" textLength="35.9" lengthAdjust="spacingAndGlyphs">layer15</text>
<line x1="540.3" y1="512.6" x2="560.7" y2="512.6" stroke="#084285" stroke-width="1.5"/>
<text x="568.5" y="516.3000000000001" font-size="10.1" fill="#333" textLength="35.9" lengthAdjust="spacingAndGlyphs">layer20</text>
</svg>
<svg class="r" style="left:300px;top:530px" width="360" height="60" viewBox="300 530 360 60"><path d="M305.6 550.5 H504 L486.5 537.2 L583 550.5 H646.5 V583.4 H305.6 Z" fill="#fdd681" stroke="#f6c547" stroke-width="0.8"/></svg>
<span id="oca" class="t" style="left:318.30px;top:557px;font-size:18.6px;line-height:21px;font-weight:400;color:#000;font-style:normal;transform:scaleX(0.9916);">parameter’s</span>
<span id="ocb" class="t" style="left:421.70px;top:557px;font-size:18.6px;line-height:21px;font-weight:700;color:#000;font-style:normal;transform:scaleX(0.8696);">distance</span>
<span id="occ" class="t" style="left:494.80px;top:557px;font-size:18.6px;line-height:21px;font-weight:700;color:#000;font-style:italic;transform:scaleX(1.1607);">t</span>
<span id="ocd" class="t" style="left:509.30px;top:557px;font-size:18.6px;line-height:21px;font-weight:400;color:#000;font-style:normal;transform:scaleX(1.0164);">to the question</span>
<div class="r" style="left:688px;top:452px;width:352.00px;height:82.70px;background:#fff;border:1.5px solid #000;box-sizing:border-box"></div>
<svg class="r" style="left:700px;top:460px" width="30" height="20" viewBox="700 460 30 20"><path d="M702.2 468 H721.6 M702.2 472.4 H721.6 M718.5 464.8 L723.6 470.2 L718.5 475.6" fill="none" stroke="#111" stroke-width="1.2"/></svg>
<span id="w1b" class="t" style="left:730.70px;top:459px;font-size:18.6px;line-height:21px;font-weight:400;color:#000;font-style:normal;transform:scaleX(1.0048);">deeper layers are better to compute</span>
<span id="w2" class="t" style="left:720.00px;top:484px;font-size:18.6px;line-height:21px;font-weight:400;color:#000;font-style:normal;transform:scaleX(1.0028);">nece(A) for larger <i class="m">t</i> (which requires</span>
<span id="w3" class="t" style="left:748.00px;top:508px;font-size:18.6px;line-height:21px;font-weight:400;color:#000;font-style:normal;transform:scaleX(1.0025);"><i class="m">t</i>-steps of mental reasoning)</span>
<span id="see" class="t" style="left:735.60px;top:572px;font-size:18.6px;line-height:21px;font-weight:400;color:#70ad47;font-style:italic;transform:scaleX(0.9881);">see paper for 44 more figures like this</span>
</body></html>
